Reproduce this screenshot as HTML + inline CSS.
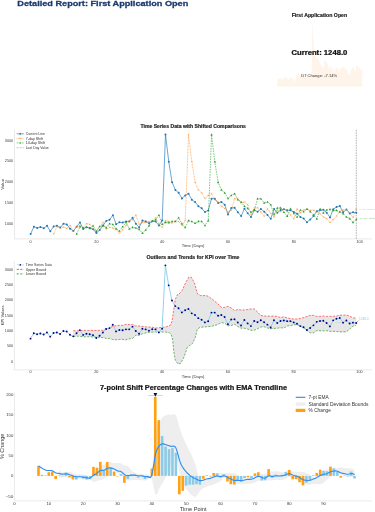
<!DOCTYPE html>
<html><head><meta charset="utf-8"><style>
html,body{margin:0;padding:0;background:#fff;width:375px;height:512px;overflow:hidden}
svg{display:block;font-family:"Liberation Sans", sans-serif;will-change:transform}
</style></head><body>
<svg width="375" height="512" viewBox="0 0 375 512">
<rect width="375" height="512" fill="#fff"/>
<text x="17.3" y="5.85" font-size="7.9" fill="#1b3b6f" text-anchor="start" font-weight="bold" stroke="#1b3b6f" stroke-width="0.28" textLength="171" lengthAdjust="spacingAndGlyphs">Detailed Report: First Application Open</text>
<path d="M277.2,82.69 L278.06,78.09 L278.92,78.91 L279.77,78.34 L280.63,79.1 L281.49,77.46 L282.35,80.99 L283.21,77.9 L284.06,77.46 L284.92,78.66 L285.78,76.2 L286.64,76.64 L287.5,79.35 L288.35,80.74 L289.21,78.09 L290.07,75.38 L290.93,79.48 L291.79,78.47 L292.64,78.91 L293.5,79.73 L294.36,82.13 L295.22,80.17 L296.08,77.4 L296.93,74.43 L297.79,73.67 L298.65,70.84 L299.51,76.51 L300.37,75.31 L301.22,75.5 L302.08,74.75 L302.94,74.75 L303.8,72.41 L304.66,76.2 L305.51,78.53 L306.37,74.24 L307.23,74.75 L308.09,75.88 L308.95,74.68 L309.8,74.75 L310.66,77.33 L311.52,74.24 L312.38,20.01 L313.24,37.1 L314.09,50.09 L314.95,54.88 L315.81,56.71 L316.67,60.24 L317.53,58.35 L318.38,57.28 L319.24,61.06 L320.1,62.51 L320.96,65.16 L321.82,66.49 L322.67,68.82 L323.53,67.81 L324.39,60.43 L325.25,60.43 L326.11,63.08 L326.96,62.51 L327.82,64.22 L328.68,70.33 L329.54,66.3 L330.4,66.17 L331.25,68.94 L332.11,71.4 L332.97,66.74 L333.83,69.64 L334.69,71.97 L335.54,67.56 L336.4,68.63 L337.26,66.93 L338.12,68.63 L338.98,70.71 L339.83,73.11 L340.69,66.93 L341.55,69.32 L342.41,67.56 L343.27,67.12 L344.12,67.75 L344.98,67.75 L345.84,68.82 L346.7,69.89 L347.56,71.97 L348.41,72.98 L349.27,75.31 L350.13,73.55 L350.99,71.34 L351.85,68.31 L352.7,67.56 L353.56,67.37 L354.42,69.26 L355.28,72.22 L356.14,67.05 L356.99,65.67 L357.85,65.04 L358.71,69.01 L359.57,67.18 L360.43,69.7 L361.28,69.01 L362.14,69.26 L362.14,86.4 L277.2,86.4 Z" fill="#fff4e9" stroke="none"/>
<text x="319.4" y="16.63" font-size="4.53" fill="#222" text-anchor="middle" font-weight="bold" stroke="#222" stroke-width="0.16" textLength="55.5" lengthAdjust="spacingAndGlyphs">First Application Open</text>
<text x="319.4" y="54.92" font-size="6.45" fill="#111" text-anchor="middle" font-weight="bold" stroke="#111" stroke-width="0.23" textLength="55.8" lengthAdjust="spacingAndGlyphs">Current: 1248.0</text>
<text x="319.2" y="76.67" font-size="3.8" fill="#333" text-anchor="middle" textLength="36" lengthAdjust="spacingAndGlyphs">D7 Change: -7.14%</text>
<line x1="14.5" y1="129.8" x2="14.5" y2="239" stroke="#dcdcdc" stroke-width="0.6"/>
<line x1="14.5" y1="238.9" x2="372" y2="238.9" stroke="#dcdcdc" stroke-width="0.6"/>
<text x="13.2" y="224.62" font-size="3.4" fill="#3a3a3a" text-anchor="end" textLength="8.4" lengthAdjust="spacingAndGlyphs">1000</text>
<text x="13.2" y="203.9" font-size="3.4" fill="#3a3a3a" text-anchor="end" textLength="8.4" lengthAdjust="spacingAndGlyphs">1500</text>
<text x="13.2" y="183.17" font-size="3.4" fill="#3a3a3a" text-anchor="end" textLength="8.4" lengthAdjust="spacingAndGlyphs">2000</text>
<text x="13.2" y="162.45" font-size="3.4" fill="#3a3a3a" text-anchor="end" textLength="8.4" lengthAdjust="spacingAndGlyphs">2500</text>
<text x="13.2" y="141.72" font-size="3.4" fill="#3a3a3a" text-anchor="end" textLength="8.4" lengthAdjust="spacingAndGlyphs">3000</text>
<text x="30.6" y="242.62" font-size="3.4" fill="#3a3a3a" text-anchor="middle" textLength="2.1" lengthAdjust="spacingAndGlyphs">0</text>
<text x="96.4" y="242.62" font-size="3.4" fill="#3a3a3a" text-anchor="middle" textLength="4.2" lengthAdjust="spacingAndGlyphs">20</text>
<text x="162.2" y="242.62" font-size="3.4" fill="#3a3a3a" text-anchor="middle" textLength="4.2" lengthAdjust="spacingAndGlyphs">40</text>
<text x="228" y="242.62" font-size="3.4" fill="#3a3a3a" text-anchor="middle" textLength="4.2" lengthAdjust="spacingAndGlyphs">60</text>
<text x="293.8" y="242.62" font-size="3.4" fill="#3a3a3a" text-anchor="middle" textLength="4.2" lengthAdjust="spacingAndGlyphs">80</text>
<text x="359.6" y="242.62" font-size="3.4" fill="#3a3a3a" text-anchor="middle" textLength="6.3" lengthAdjust="spacingAndGlyphs">100</text>
<text x="193.1" y="247.18" font-size="3.83" fill="#333" text-anchor="middle" textLength="22.6" lengthAdjust="spacingAndGlyphs">Time (Days)</text>
<g transform="translate(2.3 184.3) rotate(-90)"><text x="0" y="1.42" font-size="3.94" fill="#333" text-anchor="middle" textLength="10.8" lengthAdjust="spacingAndGlyphs">Value</text></g>
<text x="193.2" y="127.6" font-size="4.44" fill="#222" text-anchor="middle" font-weight="bold" stroke="#222" stroke-width="0.16" textLength="105.5" lengthAdjust="spacingAndGlyphs">Time Series Data with Shifted Comparisons</text>
<line x1="356.31" y1="129.8" x2="356.31" y2="239" stroke="#7a7a7a" stroke-width="0.6" stroke-dasharray="1.5,1.0"/>
<path d="M30.6,234 L33.89,226.7 L37.18,228 L40.47,227.1 L43.76,228.3 L47.05,225.7 L50.34,231.3 L53.63,226.4 L56.92,225.7 L60.21,227.6 L63.5,223.7 L66.79,224.4 L70.08,228.7 L73.37,230.9 L76.66,226.7 L79.95,222.4 L83.24,228.9 L86.53,227.3 L89.82,228 L93.11,229.3 L96.4,233.1 L99.69,230 L102.98,225.6 L106.27,220.9 L109.56,219.7 L112.85,215.2 L116.14,224.2 L119.43,222.3 L122.72,222.6 L126.01,221.4 L129.3,221.4 L132.59,217.7 L135.88,223.7 L139.17,227.4 L142.46,220.6 L145.75,221.4 L149.04,223.2 L152.33,221.3 L155.62,221.4 L158.91,225.5 L162.2,220.6 L165.49,134.6 L168.78,161.7 L172.07,182.3 L175.36,189.9 L178.65,192.8 L181.94,198.4 L185.23,195.4 L188.52,193.7 L191.81,199.7 L195.1,202 L198.39,206.2 L201.68,208.3 L204.97,212 L208.26,210.4 L211.55,198.7 L214.84,198.7 L218.13,202.9 L221.42,202 L224.71,204.7 L228,214.4 L231.29,208 L234.58,207.8 L237.87,212.2 L241.16,216.1 L244.45,208.7 L247.74,213.3 L251.03,217 L254.32,210 L257.61,211.7 L260.9,209 L264.19,211.7 L267.48,215 L270.77,218.8 L274.06,209 L277.35,212.8 L280.64,210 L283.93,209.3 L287.22,210.3 L290.51,210.3 L293.8,212 L297.09,213.7 L300.38,217 L303.67,218.6 L306.96,222.3 L310.25,219.5 L313.54,216 L316.83,211.2 L320.12,210 L323.41,209.7 L326.7,212.7 L329.99,217.4 L333.28,209.2 L336.57,207 L339.86,206 L343.15,212.3 L346.44,209.4 L349.73,213.4 L353.02,212.3 L356.31,212.7" fill="none" stroke="#1f77b4" stroke-width="0.65"/>
<circle cx="30.6" cy="234" r="1.0" fill="#1f77b4"/>
<circle cx="33.89" cy="226.7" r="1.0" fill="#1f77b4"/>
<circle cx="37.18" cy="228" r="1.0" fill="#1f77b4"/>
<circle cx="40.47" cy="227.1" r="1.0" fill="#1f77b4"/>
<circle cx="43.76" cy="228.3" r="1.0" fill="#1f77b4"/>
<circle cx="47.05" cy="225.7" r="1.0" fill="#1f77b4"/>
<circle cx="50.34" cy="231.3" r="1.0" fill="#1f77b4"/>
<circle cx="53.63" cy="226.4" r="1.0" fill="#1f77b4"/>
<circle cx="56.92" cy="225.7" r="1.0" fill="#1f77b4"/>
<circle cx="60.21" cy="227.6" r="1.0" fill="#1f77b4"/>
<circle cx="63.5" cy="223.7" r="1.0" fill="#1f77b4"/>
<circle cx="66.79" cy="224.4" r="1.0" fill="#1f77b4"/>
<circle cx="70.08" cy="228.7" r="1.0" fill="#1f77b4"/>
<circle cx="73.37" cy="230.9" r="1.0" fill="#1f77b4"/>
<circle cx="76.66" cy="226.7" r="1.0" fill="#1f77b4"/>
<circle cx="79.95" cy="222.4" r="1.0" fill="#1f77b4"/>
<circle cx="83.24" cy="228.9" r="1.0" fill="#1f77b4"/>
<circle cx="86.53" cy="227.3" r="1.0" fill="#1f77b4"/>
<circle cx="89.82" cy="228" r="1.0" fill="#1f77b4"/>
<circle cx="93.11" cy="229.3" r="1.0" fill="#1f77b4"/>
<circle cx="96.4" cy="233.1" r="1.0" fill="#1f77b4"/>
<circle cx="99.69" cy="230" r="1.0" fill="#1f77b4"/>
<circle cx="102.98" cy="225.6" r="1.0" fill="#1f77b4"/>
<circle cx="106.27" cy="220.9" r="1.0" fill="#1f77b4"/>
<circle cx="109.56" cy="219.7" r="1.0" fill="#1f77b4"/>
<circle cx="112.85" cy="215.2" r="1.0" fill="#1f77b4"/>
<circle cx="116.14" cy="224.2" r="1.0" fill="#1f77b4"/>
<circle cx="119.43" cy="222.3" r="1.0" fill="#1f77b4"/>
<circle cx="122.72" cy="222.6" r="1.0" fill="#1f77b4"/>
<circle cx="126.01" cy="221.4" r="1.0" fill="#1f77b4"/>
<circle cx="129.3" cy="221.4" r="1.0" fill="#1f77b4"/>
<circle cx="132.59" cy="217.7" r="1.0" fill="#1f77b4"/>
<circle cx="135.88" cy="223.7" r="1.0" fill="#1f77b4"/>
<circle cx="139.17" cy="227.4" r="1.0" fill="#1f77b4"/>
<circle cx="142.46" cy="220.6" r="1.0" fill="#1f77b4"/>
<circle cx="145.75" cy="221.4" r="1.0" fill="#1f77b4"/>
<circle cx="149.04" cy="223.2" r="1.0" fill="#1f77b4"/>
<circle cx="152.33" cy="221.3" r="1.0" fill="#1f77b4"/>
<circle cx="155.62" cy="221.4" r="1.0" fill="#1f77b4"/>
<circle cx="158.91" cy="225.5" r="1.0" fill="#1f77b4"/>
<circle cx="162.2" cy="220.6" r="1.0" fill="#1f77b4"/>
<circle cx="165.49" cy="134.6" r="1.0" fill="#1f77b4"/>
<circle cx="168.78" cy="161.7" r="1.0" fill="#1f77b4"/>
<circle cx="172.07" cy="182.3" r="1.0" fill="#1f77b4"/>
<circle cx="175.36" cy="189.9" r="1.0" fill="#1f77b4"/>
<circle cx="178.65" cy="192.8" r="1.0" fill="#1f77b4"/>
<circle cx="181.94" cy="198.4" r="1.0" fill="#1f77b4"/>
<circle cx="185.23" cy="195.4" r="1.0" fill="#1f77b4"/>
<circle cx="188.52" cy="193.7" r="1.0" fill="#1f77b4"/>
<circle cx="191.81" cy="199.7" r="1.0" fill="#1f77b4"/>
<circle cx="195.1" cy="202" r="1.0" fill="#1f77b4"/>
<circle cx="198.39" cy="206.2" r="1.0" fill="#1f77b4"/>
<circle cx="201.68" cy="208.3" r="1.0" fill="#1f77b4"/>
<circle cx="204.97" cy="212" r="1.0" fill="#1f77b4"/>
<circle cx="208.26" cy="210.4" r="1.0" fill="#1f77b4"/>
<circle cx="211.55" cy="198.7" r="1.0" fill="#1f77b4"/>
<circle cx="214.84" cy="198.7" r="1.0" fill="#1f77b4"/>
<circle cx="218.13" cy="202.9" r="1.0" fill="#1f77b4"/>
<circle cx="221.42" cy="202" r="1.0" fill="#1f77b4"/>
<circle cx="224.71" cy="204.7" r="1.0" fill="#1f77b4"/>
<circle cx="228" cy="214.4" r="1.0" fill="#1f77b4"/>
<circle cx="231.29" cy="208" r="1.0" fill="#1f77b4"/>
<circle cx="234.58" cy="207.8" r="1.0" fill="#1f77b4"/>
<circle cx="237.87" cy="212.2" r="1.0" fill="#1f77b4"/>
<circle cx="241.16" cy="216.1" r="1.0" fill="#1f77b4"/>
<circle cx="244.45" cy="208.7" r="1.0" fill="#1f77b4"/>
<circle cx="247.74" cy="213.3" r="1.0" fill="#1f77b4"/>
<circle cx="251.03" cy="217" r="1.0" fill="#1f77b4"/>
<circle cx="254.32" cy="210" r="1.0" fill="#1f77b4"/>
<circle cx="257.61" cy="211.7" r="1.0" fill="#1f77b4"/>
<circle cx="260.9" cy="209" r="1.0" fill="#1f77b4"/>
<circle cx="264.19" cy="211.7" r="1.0" fill="#1f77b4"/>
<circle cx="267.48" cy="215" r="1.0" fill="#1f77b4"/>
<circle cx="270.77" cy="218.8" r="1.0" fill="#1f77b4"/>
<circle cx="274.06" cy="209" r="1.0" fill="#1f77b4"/>
<circle cx="277.35" cy="212.8" r="1.0" fill="#1f77b4"/>
<circle cx="280.64" cy="210" r="1.0" fill="#1f77b4"/>
<circle cx="283.93" cy="209.3" r="1.0" fill="#1f77b4"/>
<circle cx="287.22" cy="210.3" r="1.0" fill="#1f77b4"/>
<circle cx="290.51" cy="210.3" r="1.0" fill="#1f77b4"/>
<circle cx="293.8" cy="212" r="1.0" fill="#1f77b4"/>
<circle cx="297.09" cy="213.7" r="1.0" fill="#1f77b4"/>
<circle cx="300.38" cy="217" r="1.0" fill="#1f77b4"/>
<circle cx="303.67" cy="218.6" r="1.0" fill="#1f77b4"/>
<circle cx="306.96" cy="222.3" r="1.0" fill="#1f77b4"/>
<circle cx="310.25" cy="219.5" r="1.0" fill="#1f77b4"/>
<circle cx="313.54" cy="216" r="1.0" fill="#1f77b4"/>
<circle cx="316.83" cy="211.2" r="1.0" fill="#1f77b4"/>
<circle cx="320.12" cy="210" r="1.0" fill="#1f77b4"/>
<circle cx="323.41" cy="209.7" r="1.0" fill="#1f77b4"/>
<circle cx="326.7" cy="212.7" r="1.0" fill="#1f77b4"/>
<circle cx="329.99" cy="217.4" r="1.0" fill="#1f77b4"/>
<circle cx="333.28" cy="209.2" r="1.0" fill="#1f77b4"/>
<circle cx="336.57" cy="207" r="1.0" fill="#1f77b4"/>
<circle cx="339.86" cy="206" r="1.0" fill="#1f77b4"/>
<circle cx="343.15" cy="212.3" r="1.0" fill="#1f77b4"/>
<circle cx="346.44" cy="209.4" r="1.0" fill="#1f77b4"/>
<circle cx="349.73" cy="213.4" r="1.0" fill="#1f77b4"/>
<circle cx="353.02" cy="212.3" r="1.0" fill="#1f77b4"/>
<circle cx="356.31" cy="212.7" r="1.0" fill="#1f77b4"/>
<path d="M53.63,234 L56.92,226.7 L60.21,228 L63.5,227.1 L66.79,228.3 L70.08,225.7 L73.37,231.3 L76.66,226.4 L79.95,225.7 L83.24,227.6 L86.53,223.7 L89.82,224.4 L93.11,228.7 L96.4,230.9 L99.69,226.7 L102.98,222.4 L106.27,228.9 L109.56,227.3 L112.85,228 L116.14,229.3 L119.43,233.1 L122.72,230 L126.01,225.6 L129.3,220.9 L132.59,219.7 L135.88,215.2 L139.17,224.2 L142.46,222.3 L145.75,222.6 L149.04,221.4 L152.33,221.4 L155.62,217.7 L158.91,223.7 L162.2,227.4 L165.49,220.6 L168.78,221.4 L172.07,223.2 L175.36,221.3 L178.65,221.4 L181.94,225.5 L185.23,220.6 L188.52,134.6 L191.81,161.7 L195.1,182.3 L198.39,189.9 L201.68,192.8 L204.97,198.4 L208.26,195.4 L211.55,193.7 L214.84,199.7 L218.13,202 L221.42,206.2 L224.71,208.3 L228,212 L231.29,210.4 L234.58,198.7 L237.87,198.7 L241.16,202.9 L244.45,202 L247.74,204.7 L251.03,214.4 L254.32,208 L257.61,207.8 L260.9,212.2 L264.19,216.1 L267.48,208.7 L270.77,213.3 L274.06,217 L277.35,210 L280.64,211.7 L283.93,209 L287.22,211.7 L290.51,215 L293.8,218.8 L297.09,209 L300.38,212.8 L303.67,210 L306.96,209.3 L310.25,210.3 L313.54,210.3 L316.83,212 L320.12,213.7 L323.41,217 L326.7,218.6 L329.99,222.3 L333.28,219.5 L336.57,216 L339.86,211.2 L343.15,210 L346.44,209.7 L349.73,212.7 L353.02,217.4 L356.31,209.2" fill="none" stroke="#ff7f0e" stroke-opacity="0.85" stroke-width="0.7" stroke-dasharray="0.8,0.7"/>
<path d="M52.93,233.3 L54.33,234.7 M54.33,233.3 L52.93,234.7" stroke="#ff7f0e" stroke-opacity="0.8" stroke-width="0.5"/>
<path d="M56.22,226 L57.62,227.4 M57.62,226 L56.22,227.4" stroke="#ff7f0e" stroke-opacity="0.8" stroke-width="0.5"/>
<path d="M59.51,227.3 L60.91,228.7 M60.91,227.3 L59.51,228.7" stroke="#ff7f0e" stroke-opacity="0.8" stroke-width="0.5"/>
<path d="M62.8,226.4 L64.2,227.8 M64.2,226.4 L62.8,227.8" stroke="#ff7f0e" stroke-opacity="0.8" stroke-width="0.5"/>
<path d="M66.09,227.6 L67.49,229 M67.49,227.6 L66.09,229" stroke="#ff7f0e" stroke-opacity="0.8" stroke-width="0.5"/>
<path d="M69.38,225 L70.78,226.4 M70.78,225 L69.38,226.4" stroke="#ff7f0e" stroke-opacity="0.8" stroke-width="0.5"/>
<path d="M72.67,230.6 L74.07,232 M74.07,230.6 L72.67,232" stroke="#ff7f0e" stroke-opacity="0.8" stroke-width="0.5"/>
<path d="M75.96,225.7 L77.36,227.1 M77.36,225.7 L75.96,227.1" stroke="#ff7f0e" stroke-opacity="0.8" stroke-width="0.5"/>
<path d="M79.25,225 L80.65,226.4 M80.65,225 L79.25,226.4" stroke="#ff7f0e" stroke-opacity="0.8" stroke-width="0.5"/>
<path d="M82.54,226.9 L83.94,228.3 M83.94,226.9 L82.54,228.3" stroke="#ff7f0e" stroke-opacity="0.8" stroke-width="0.5"/>
<path d="M85.83,223 L87.23,224.4 M87.23,223 L85.83,224.4" stroke="#ff7f0e" stroke-opacity="0.8" stroke-width="0.5"/>
<path d="M89.12,223.7 L90.52,225.1 M90.52,223.7 L89.12,225.1" stroke="#ff7f0e" stroke-opacity="0.8" stroke-width="0.5"/>
<path d="M92.41,228 L93.81,229.4 M93.81,228 L92.41,229.4" stroke="#ff7f0e" stroke-opacity="0.8" stroke-width="0.5"/>
<path d="M95.7,230.2 L97.1,231.6 M97.1,230.2 L95.7,231.6" stroke="#ff7f0e" stroke-opacity="0.8" stroke-width="0.5"/>
<path d="M98.99,226 L100.39,227.4 M100.39,226 L98.99,227.4" stroke="#ff7f0e" stroke-opacity="0.8" stroke-width="0.5"/>
<path d="M102.28,221.7 L103.68,223.1 M103.68,221.7 L102.28,223.1" stroke="#ff7f0e" stroke-opacity="0.8" stroke-width="0.5"/>
<path d="M105.57,228.2 L106.97,229.6 M106.97,228.2 L105.57,229.6" stroke="#ff7f0e" stroke-opacity="0.8" stroke-width="0.5"/>
<path d="M108.86,226.6 L110.26,228 M110.26,226.6 L108.86,228" stroke="#ff7f0e" stroke-opacity="0.8" stroke-width="0.5"/>
<path d="M112.15,227.3 L113.55,228.7 M113.55,227.3 L112.15,228.7" stroke="#ff7f0e" stroke-opacity="0.8" stroke-width="0.5"/>
<path d="M115.44,228.6 L116.84,230 M116.84,228.6 L115.44,230" stroke="#ff7f0e" stroke-opacity="0.8" stroke-width="0.5"/>
<path d="M118.73,232.4 L120.13,233.8 M120.13,232.4 L118.73,233.8" stroke="#ff7f0e" stroke-opacity="0.8" stroke-width="0.5"/>
<path d="M122.02,229.3 L123.42,230.7 M123.42,229.3 L122.02,230.7" stroke="#ff7f0e" stroke-opacity="0.8" stroke-width="0.5"/>
<path d="M125.31,224.9 L126.71,226.3 M126.71,224.9 L125.31,226.3" stroke="#ff7f0e" stroke-opacity="0.8" stroke-width="0.5"/>
<path d="M128.6,220.2 L130,221.6 M130,220.2 L128.6,221.6" stroke="#ff7f0e" stroke-opacity="0.8" stroke-width="0.5"/>
<path d="M131.89,219 L133.29,220.4 M133.29,219 L131.89,220.4" stroke="#ff7f0e" stroke-opacity="0.8" stroke-width="0.5"/>
<path d="M135.18,214.5 L136.58,215.9 M136.58,214.5 L135.18,215.9" stroke="#ff7f0e" stroke-opacity="0.8" stroke-width="0.5"/>
<path d="M138.47,223.5 L139.87,224.9 M139.87,223.5 L138.47,224.9" stroke="#ff7f0e" stroke-opacity="0.8" stroke-width="0.5"/>
<path d="M141.76,221.6 L143.16,223 M143.16,221.6 L141.76,223" stroke="#ff7f0e" stroke-opacity="0.8" stroke-width="0.5"/>
<path d="M145.05,221.9 L146.45,223.3 M146.45,221.9 L145.05,223.3" stroke="#ff7f0e" stroke-opacity="0.8" stroke-width="0.5"/>
<path d="M148.34,220.7 L149.74,222.1 M149.74,220.7 L148.34,222.1" stroke="#ff7f0e" stroke-opacity="0.8" stroke-width="0.5"/>
<path d="M151.63,220.7 L153.03,222.1 M153.03,220.7 L151.63,222.1" stroke="#ff7f0e" stroke-opacity="0.8" stroke-width="0.5"/>
<path d="M154.92,217 L156.32,218.4 M156.32,217 L154.92,218.4" stroke="#ff7f0e" stroke-opacity="0.8" stroke-width="0.5"/>
<path d="M158.21,223 L159.61,224.4 M159.61,223 L158.21,224.4" stroke="#ff7f0e" stroke-opacity="0.8" stroke-width="0.5"/>
<path d="M161.5,226.7 L162.9,228.1 M162.9,226.7 L161.5,228.1" stroke="#ff7f0e" stroke-opacity="0.8" stroke-width="0.5"/>
<path d="M164.79,219.9 L166.19,221.3 M166.19,219.9 L164.79,221.3" stroke="#ff7f0e" stroke-opacity="0.8" stroke-width="0.5"/>
<path d="M168.08,220.7 L169.48,222.1 M169.48,220.7 L168.08,222.1" stroke="#ff7f0e" stroke-opacity="0.8" stroke-width="0.5"/>
<path d="M171.37,222.5 L172.77,223.9 M172.77,222.5 L171.37,223.9" stroke="#ff7f0e" stroke-opacity="0.8" stroke-width="0.5"/>
<path d="M174.66,220.6 L176.06,222 M176.06,220.6 L174.66,222" stroke="#ff7f0e" stroke-opacity="0.8" stroke-width="0.5"/>
<path d="M177.95,220.7 L179.35,222.1 M179.35,220.7 L177.95,222.1" stroke="#ff7f0e" stroke-opacity="0.8" stroke-width="0.5"/>
<path d="M181.24,224.8 L182.64,226.2 M182.64,224.8 L181.24,226.2" stroke="#ff7f0e" stroke-opacity="0.8" stroke-width="0.5"/>
<path d="M184.53,219.9 L185.93,221.3 M185.93,219.9 L184.53,221.3" stroke="#ff7f0e" stroke-opacity="0.8" stroke-width="0.5"/>
<path d="M187.82,133.9 L189.22,135.3 M189.22,133.9 L187.82,135.3" stroke="#ff7f0e" stroke-opacity="0.8" stroke-width="0.5"/>
<path d="M191.11,161 L192.51,162.4 M192.51,161 L191.11,162.4" stroke="#ff7f0e" stroke-opacity="0.8" stroke-width="0.5"/>
<path d="M194.4,181.6 L195.8,183 M195.8,181.6 L194.4,183" stroke="#ff7f0e" stroke-opacity="0.8" stroke-width="0.5"/>
<path d="M197.69,189.2 L199.09,190.6 M199.09,189.2 L197.69,190.6" stroke="#ff7f0e" stroke-opacity="0.8" stroke-width="0.5"/>
<path d="M200.98,192.1 L202.38,193.5 M202.38,192.1 L200.98,193.5" stroke="#ff7f0e" stroke-opacity="0.8" stroke-width="0.5"/>
<path d="M204.27,197.7 L205.67,199.1 M205.67,197.7 L204.27,199.1" stroke="#ff7f0e" stroke-opacity="0.8" stroke-width="0.5"/>
<path d="M207.56,194.7 L208.96,196.1 M208.96,194.7 L207.56,196.1" stroke="#ff7f0e" stroke-opacity="0.8" stroke-width="0.5"/>
<path d="M210.85,193 L212.25,194.4 M212.25,193 L210.85,194.4" stroke="#ff7f0e" stroke-opacity="0.8" stroke-width="0.5"/>
<path d="M214.14,199 L215.54,200.4 M215.54,199 L214.14,200.4" stroke="#ff7f0e" stroke-opacity="0.8" stroke-width="0.5"/>
<path d="M217.43,201.3 L218.83,202.7 M218.83,201.3 L217.43,202.7" stroke="#ff7f0e" stroke-opacity="0.8" stroke-width="0.5"/>
<path d="M220.72,205.5 L222.12,206.9 M222.12,205.5 L220.72,206.9" stroke="#ff7f0e" stroke-opacity="0.8" stroke-width="0.5"/>
<path d="M224.01,207.6 L225.41,209 M225.41,207.6 L224.01,209" stroke="#ff7f0e" stroke-opacity="0.8" stroke-width="0.5"/>
<path d="M227.3,211.3 L228.7,212.7 M228.7,211.3 L227.3,212.7" stroke="#ff7f0e" stroke-opacity="0.8" stroke-width="0.5"/>
<path d="M230.59,209.7 L231.99,211.1 M231.99,209.7 L230.59,211.1" stroke="#ff7f0e" stroke-opacity="0.8" stroke-width="0.5"/>
<path d="M233.88,198 L235.28,199.4 M235.28,198 L233.88,199.4" stroke="#ff7f0e" stroke-opacity="0.8" stroke-width="0.5"/>
<path d="M237.17,198 L238.57,199.4 M238.57,198 L237.17,199.4" stroke="#ff7f0e" stroke-opacity="0.8" stroke-width="0.5"/>
<path d="M240.46,202.2 L241.86,203.6 M241.86,202.2 L240.46,203.6" stroke="#ff7f0e" stroke-opacity="0.8" stroke-width="0.5"/>
<path d="M243.75,201.3 L245.15,202.7 M245.15,201.3 L243.75,202.7" stroke="#ff7f0e" stroke-opacity="0.8" stroke-width="0.5"/>
<path d="M247.04,204 L248.44,205.4 M248.44,204 L247.04,205.4" stroke="#ff7f0e" stroke-opacity="0.8" stroke-width="0.5"/>
<path d="M250.33,213.7 L251.73,215.1 M251.73,213.7 L250.33,215.1" stroke="#ff7f0e" stroke-opacity="0.8" stroke-width="0.5"/>
<path d="M253.62,207.3 L255.02,208.7 M255.02,207.3 L253.62,208.7" stroke="#ff7f0e" stroke-opacity="0.8" stroke-width="0.5"/>
<path d="M256.91,207.1 L258.31,208.5 M258.31,207.1 L256.91,208.5" stroke="#ff7f0e" stroke-opacity="0.8" stroke-width="0.5"/>
<path d="M260.2,211.5 L261.6,212.9 M261.6,211.5 L260.2,212.9" stroke="#ff7f0e" stroke-opacity="0.8" stroke-width="0.5"/>
<path d="M263.49,215.4 L264.89,216.8 M264.89,215.4 L263.49,216.8" stroke="#ff7f0e" stroke-opacity="0.8" stroke-width="0.5"/>
<path d="M266.78,208 L268.18,209.4 M268.18,208 L266.78,209.4" stroke="#ff7f0e" stroke-opacity="0.8" stroke-width="0.5"/>
<path d="M270.07,212.6 L271.47,214 M271.47,212.6 L270.07,214" stroke="#ff7f0e" stroke-opacity="0.8" stroke-width="0.5"/>
<path d="M273.36,216.3 L274.76,217.7 M274.76,216.3 L273.36,217.7" stroke="#ff7f0e" stroke-opacity="0.8" stroke-width="0.5"/>
<path d="M276.65,209.3 L278.05,210.7 M278.05,209.3 L276.65,210.7" stroke="#ff7f0e" stroke-opacity="0.8" stroke-width="0.5"/>
<path d="M279.94,211 L281.34,212.4 M281.34,211 L279.94,212.4" stroke="#ff7f0e" stroke-opacity="0.8" stroke-width="0.5"/>
<path d="M283.23,208.3 L284.63,209.7 M284.63,208.3 L283.23,209.7" stroke="#ff7f0e" stroke-opacity="0.8" stroke-width="0.5"/>
<path d="M286.52,211 L287.92,212.4 M287.92,211 L286.52,212.4" stroke="#ff7f0e" stroke-opacity="0.8" stroke-width="0.5"/>
<path d="M289.81,214.3 L291.21,215.7 M291.21,214.3 L289.81,215.7" stroke="#ff7f0e" stroke-opacity="0.8" stroke-width="0.5"/>
<path d="M293.1,218.1 L294.5,219.5 M294.5,218.1 L293.1,219.5" stroke="#ff7f0e" stroke-opacity="0.8" stroke-width="0.5"/>
<path d="M296.39,208.3 L297.79,209.7 M297.79,208.3 L296.39,209.7" stroke="#ff7f0e" stroke-opacity="0.8" stroke-width="0.5"/>
<path d="M299.68,212.1 L301.08,213.5 M301.08,212.1 L299.68,213.5" stroke="#ff7f0e" stroke-opacity="0.8" stroke-width="0.5"/>
<path d="M302.97,209.3 L304.37,210.7 M304.37,209.3 L302.97,210.7" stroke="#ff7f0e" stroke-opacity="0.8" stroke-width="0.5"/>
<path d="M306.26,208.6 L307.66,210 M307.66,208.6 L306.26,210" stroke="#ff7f0e" stroke-opacity="0.8" stroke-width="0.5"/>
<path d="M309.55,209.6 L310.95,211 M310.95,209.6 L309.55,211" stroke="#ff7f0e" stroke-opacity="0.8" stroke-width="0.5"/>
<path d="M312.84,209.6 L314.24,211 M314.24,209.6 L312.84,211" stroke="#ff7f0e" stroke-opacity="0.8" stroke-width="0.5"/>
<path d="M316.13,211.3 L317.53,212.7 M317.53,211.3 L316.13,212.7" stroke="#ff7f0e" stroke-opacity="0.8" stroke-width="0.5"/>
<path d="M319.42,213 L320.82,214.4 M320.82,213 L319.42,214.4" stroke="#ff7f0e" stroke-opacity="0.8" stroke-width="0.5"/>
<path d="M322.71,216.3 L324.11,217.7 M324.11,216.3 L322.71,217.7" stroke="#ff7f0e" stroke-opacity="0.8" stroke-width="0.5"/>
<path d="M326,217.9 L327.4,219.3 M327.4,217.9 L326,219.3" stroke="#ff7f0e" stroke-opacity="0.8" stroke-width="0.5"/>
<path d="M329.29,221.6 L330.69,223 M330.69,221.6 L329.29,223" stroke="#ff7f0e" stroke-opacity="0.8" stroke-width="0.5"/>
<path d="M332.58,218.8 L333.98,220.2 M333.98,218.8 L332.58,220.2" stroke="#ff7f0e" stroke-opacity="0.8" stroke-width="0.5"/>
<path d="M335.87,215.3 L337.27,216.7 M337.27,215.3 L335.87,216.7" stroke="#ff7f0e" stroke-opacity="0.8" stroke-width="0.5"/>
<path d="M339.16,210.5 L340.56,211.9 M340.56,210.5 L339.16,211.9" stroke="#ff7f0e" stroke-opacity="0.8" stroke-width="0.5"/>
<path d="M342.45,209.3 L343.85,210.7 M343.85,209.3 L342.45,210.7" stroke="#ff7f0e" stroke-opacity="0.8" stroke-width="0.5"/>
<path d="M345.74,209 L347.14,210.4 M347.14,209 L345.74,210.4" stroke="#ff7f0e" stroke-opacity="0.8" stroke-width="0.5"/>
<path d="M349.03,212 L350.43,213.4 M350.43,212 L349.03,213.4" stroke="#ff7f0e" stroke-opacity="0.8" stroke-width="0.5"/>
<path d="M352.32,216.7 L353.72,218.1 M353.72,216.7 L352.32,218.1" stroke="#ff7f0e" stroke-opacity="0.8" stroke-width="0.5"/>
<path d="M355.61,208.5 L357.01,209.9 M357.01,208.5 L355.61,209.9" stroke="#ff7f0e" stroke-opacity="0.8" stroke-width="0.5"/>
<path d="M76.66,234 L79.95,226.7 L83.24,228 L86.53,227.1 L89.82,228.3 L93.11,225.7 L96.4,231.3 L99.69,226.4 L102.98,225.7 L106.27,227.6 L109.56,223.7 L112.85,224.4 L116.14,228.7 L119.43,230.9 L122.72,226.7 L126.01,222.4 L129.3,228.9 L132.59,227.3 L135.88,228 L139.17,229.3 L142.46,233.1 L145.75,230 L149.04,225.6 L152.33,220.9 L155.62,219.7 L158.91,215.2 L162.2,224.2 L165.49,222.3 L168.78,222.6 L172.07,221.4 L175.36,221.4 L178.65,217.7 L181.94,223.7 L185.23,227.4 L188.52,220.6 L191.81,221.4 L195.1,223.2 L198.39,221.3 L201.68,221.4 L204.97,225.5 L208.26,220.6 L211.55,134.6 L214.84,161.7 L218.13,182.3 L221.42,189.9 L224.71,192.8 L228,198.4 L231.29,195.4 L234.58,193.7 L237.87,199.7 L241.16,202 L244.45,206.2 L247.74,208.3 L251.03,212 L254.32,210.4 L257.61,198.7 L260.9,198.7 L264.19,202.9 L267.48,202 L270.77,204.7 L274.06,214.4 L277.35,208 L280.64,207.8 L283.93,212.2 L287.22,216.1 L290.51,208.7 L293.8,213.3 L297.09,217 L300.38,210 L303.67,211.7 L306.96,209 L310.25,211.7 L313.54,215 L316.83,218.8 L320.12,209 L323.41,212.8 L326.7,210 L329.99,209.3 L333.28,210.3 L336.57,210.3 L339.86,212 L343.15,213.7 L346.44,217 L349.73,218.6 L353.02,222.3 L356.31,219.5" fill="none" stroke="#2ca02c" stroke-opacity="0.85" stroke-width="0.7" stroke-dasharray="1.6,1"/>
<path d="M76.66,232.75 L77.81,234.85 L75.51,234.85 Z" fill="#2ca02c"/>
<path d="M79.95,225.45 L81.1,227.55 L78.8,227.55 Z" fill="#2ca02c"/>
<path d="M83.24,226.75 L84.39,228.85 L82.09,228.85 Z" fill="#2ca02c"/>
<path d="M86.53,225.85 L87.68,227.95 L85.38,227.95 Z" fill="#2ca02c"/>
<path d="M89.82,227.05 L90.97,229.15 L88.67,229.15 Z" fill="#2ca02c"/>
<path d="M93.11,224.45 L94.26,226.55 L91.96,226.55 Z" fill="#2ca02c"/>
<path d="M96.4,230.05 L97.55,232.15 L95.25,232.15 Z" fill="#2ca02c"/>
<path d="M99.69,225.15 L100.84,227.25 L98.54,227.25 Z" fill="#2ca02c"/>
<path d="M102.98,224.45 L104.13,226.55 L101.83,226.55 Z" fill="#2ca02c"/>
<path d="M106.27,226.35 L107.42,228.45 L105.12,228.45 Z" fill="#2ca02c"/>
<path d="M109.56,222.45 L110.71,224.55 L108.41,224.55 Z" fill="#2ca02c"/>
<path d="M112.85,223.15 L114,225.25 L111.7,225.25 Z" fill="#2ca02c"/>
<path d="M116.14,227.45 L117.29,229.55 L114.99,229.55 Z" fill="#2ca02c"/>
<path d="M119.43,229.65 L120.58,231.75 L118.28,231.75 Z" fill="#2ca02c"/>
<path d="M122.72,225.45 L123.87,227.55 L121.57,227.55 Z" fill="#2ca02c"/>
<path d="M126.01,221.15 L127.16,223.25 L124.86,223.25 Z" fill="#2ca02c"/>
<path d="M129.3,227.65 L130.45,229.75 L128.15,229.75 Z" fill="#2ca02c"/>
<path d="M132.59,226.05 L133.74,228.15 L131.44,228.15 Z" fill="#2ca02c"/>
<path d="M135.88,226.75 L137.03,228.85 L134.73,228.85 Z" fill="#2ca02c"/>
<path d="M139.17,228.05 L140.32,230.15 L138.02,230.15 Z" fill="#2ca02c"/>
<path d="M142.46,231.85 L143.61,233.95 L141.31,233.95 Z" fill="#2ca02c"/>
<path d="M145.75,228.75 L146.9,230.85 L144.6,230.85 Z" fill="#2ca02c"/>
<path d="M149.04,224.35 L150.19,226.45 L147.89,226.45 Z" fill="#2ca02c"/>
<path d="M152.33,219.65 L153.48,221.75 L151.18,221.75 Z" fill="#2ca02c"/>
<path d="M155.62,218.45 L156.77,220.55 L154.47,220.55 Z" fill="#2ca02c"/>
<path d="M158.91,213.95 L160.06,216.05 L157.76,216.05 Z" fill="#2ca02c"/>
<path d="M162.2,222.95 L163.35,225.05 L161.05,225.05 Z" fill="#2ca02c"/>
<path d="M165.49,221.05 L166.64,223.15 L164.34,223.15 Z" fill="#2ca02c"/>
<path d="M168.78,221.35 L169.93,223.45 L167.63,223.45 Z" fill="#2ca02c"/>
<path d="M172.07,220.15 L173.22,222.25 L170.92,222.25 Z" fill="#2ca02c"/>
<path d="M175.36,220.15 L176.51,222.25 L174.21,222.25 Z" fill="#2ca02c"/>
<path d="M178.65,216.45 L179.8,218.55 L177.5,218.55 Z" fill="#2ca02c"/>
<path d="M181.94,222.45 L183.09,224.55 L180.79,224.55 Z" fill="#2ca02c"/>
<path d="M185.23,226.15 L186.38,228.25 L184.08,228.25 Z" fill="#2ca02c"/>
<path d="M188.52,219.35 L189.67,221.45 L187.37,221.45 Z" fill="#2ca02c"/>
<path d="M191.81,220.15 L192.96,222.25 L190.66,222.25 Z" fill="#2ca02c"/>
<path d="M195.1,221.95 L196.25,224.05 L193.95,224.05 Z" fill="#2ca02c"/>
<path d="M198.39,220.05 L199.54,222.15 L197.24,222.15 Z" fill="#2ca02c"/>
<path d="M201.68,220.15 L202.83,222.25 L200.53,222.25 Z" fill="#2ca02c"/>
<path d="M204.97,224.25 L206.12,226.35 L203.82,226.35 Z" fill="#2ca02c"/>
<path d="M208.26,219.35 L209.41,221.45 L207.11,221.45 Z" fill="#2ca02c"/>
<path d="M211.55,133.35 L212.7,135.45 L210.4,135.45 Z" fill="#2ca02c"/>
<path d="M214.84,160.45 L215.99,162.55 L213.69,162.55 Z" fill="#2ca02c"/>
<path d="M218.13,181.05 L219.28,183.15 L216.98,183.15 Z" fill="#2ca02c"/>
<path d="M221.42,188.65 L222.57,190.75 L220.27,190.75 Z" fill="#2ca02c"/>
<path d="M224.71,191.55 L225.86,193.65 L223.56,193.65 Z" fill="#2ca02c"/>
<path d="M228,197.15 L229.15,199.25 L226.85,199.25 Z" fill="#2ca02c"/>
<path d="M231.29,194.15 L232.44,196.25 L230.14,196.25 Z" fill="#2ca02c"/>
<path d="M234.58,192.45 L235.73,194.55 L233.43,194.55 Z" fill="#2ca02c"/>
<path d="M237.87,198.45 L239.02,200.55 L236.72,200.55 Z" fill="#2ca02c"/>
<path d="M241.16,200.75 L242.31,202.85 L240.01,202.85 Z" fill="#2ca02c"/>
<path d="M244.45,204.95 L245.6,207.05 L243.3,207.05 Z" fill="#2ca02c"/>
<path d="M247.74,207.05 L248.89,209.15 L246.59,209.15 Z" fill="#2ca02c"/>
<path d="M251.03,210.75 L252.18,212.85 L249.88,212.85 Z" fill="#2ca02c"/>
<path d="M254.32,209.15 L255.47,211.25 L253.17,211.25 Z" fill="#2ca02c"/>
<path d="M257.61,197.45 L258.76,199.55 L256.46,199.55 Z" fill="#2ca02c"/>
<path d="M260.9,197.45 L262.05,199.55 L259.75,199.55 Z" fill="#2ca02c"/>
<path d="M264.19,201.65 L265.34,203.75 L263.04,203.75 Z" fill="#2ca02c"/>
<path d="M267.48,200.75 L268.63,202.85 L266.33,202.85 Z" fill="#2ca02c"/>
<path d="M270.77,203.45 L271.92,205.55 L269.62,205.55 Z" fill="#2ca02c"/>
<path d="M274.06,213.15 L275.21,215.25 L272.91,215.25 Z" fill="#2ca02c"/>
<path d="M277.35,206.75 L278.5,208.85 L276.2,208.85 Z" fill="#2ca02c"/>
<path d="M280.64,206.55 L281.79,208.65 L279.49,208.65 Z" fill="#2ca02c"/>
<path d="M283.93,210.95 L285.08,213.05 L282.78,213.05 Z" fill="#2ca02c"/>
<path d="M287.22,214.85 L288.37,216.95 L286.07,216.95 Z" fill="#2ca02c"/>
<path d="M290.51,207.45 L291.66,209.55 L289.36,209.55 Z" fill="#2ca02c"/>
<path d="M293.8,212.05 L294.95,214.15 L292.65,214.15 Z" fill="#2ca02c"/>
<path d="M297.09,215.75 L298.24,217.85 L295.94,217.85 Z" fill="#2ca02c"/>
<path d="M300.38,208.75 L301.53,210.85 L299.23,210.85 Z" fill="#2ca02c"/>
<path d="M303.67,210.45 L304.82,212.55 L302.52,212.55 Z" fill="#2ca02c"/>
<path d="M306.96,207.75 L308.11,209.85 L305.81,209.85 Z" fill="#2ca02c"/>
<path d="M310.25,210.45 L311.4,212.55 L309.1,212.55 Z" fill="#2ca02c"/>
<path d="M313.54,213.75 L314.69,215.85 L312.39,215.85 Z" fill="#2ca02c"/>
<path d="M316.83,217.55 L317.98,219.65 L315.68,219.65 Z" fill="#2ca02c"/>
<path d="M320.12,207.75 L321.27,209.85 L318.97,209.85 Z" fill="#2ca02c"/>
<path d="M323.41,211.55 L324.56,213.65 L322.26,213.65 Z" fill="#2ca02c"/>
<path d="M326.7,208.75 L327.85,210.85 L325.55,210.85 Z" fill="#2ca02c"/>
<path d="M329.99,208.05 L331.14,210.15 L328.84,210.15 Z" fill="#2ca02c"/>
<path d="M333.28,209.05 L334.43,211.15 L332.13,211.15 Z" fill="#2ca02c"/>
<path d="M336.57,209.05 L337.72,211.15 L335.42,211.15 Z" fill="#2ca02c"/>
<path d="M339.86,210.75 L341.01,212.85 L338.71,212.85 Z" fill="#2ca02c"/>
<path d="M343.15,212.45 L344.3,214.55 L342,214.55 Z" fill="#2ca02c"/>
<path d="M346.44,215.75 L347.59,217.85 L345.29,217.85 Z" fill="#2ca02c"/>
<path d="M349.73,217.35 L350.88,219.45 L348.58,219.45 Z" fill="#2ca02c"/>
<path d="M353.02,221.05 L354.17,223.15 L351.87,223.15 Z" fill="#2ca02c"/>
<path d="M356.31,218.25 L357.46,220.35 L355.16,220.35 Z" fill="#2ca02c"/>
<text x="359.3" y="210.29" font-size="2.47" fill="#ffb27a" text-anchor="start" textLength="23.04" lengthAdjust="spacingAndGlyphs">7-day Shift: 1344.0</text>
<text x="359.6" y="219.39" font-size="2.47" fill="#86c986" text-anchor="start" textLength="24.56" lengthAdjust="spacingAndGlyphs">14-day Shift: 1094.0</text>
<line x1="16.7" y1="133.8" x2="23.8" y2="133.8" stroke="#1f77b4" stroke-width="0.65"/><circle cx="20.25" cy="133.8" r="0.85" fill="#1f77b4"/>
<line x1="16.7" y1="138.4" x2="23.8" y2="138.4" stroke="#ff7f0e" stroke-opacity="0.85" stroke-width="0.7" stroke-dasharray="0.8,0.7"/><path d="M19.55,137.70000000000002 L20.95,139.1 M20.95,137.70000000000002 L19.55,139.1" stroke="#ff7f0e" stroke-width="0.5"/>
<line x1="16.7" y1="142.9" x2="23.8" y2="142.9" stroke="#2ca02c" stroke-opacity="0.85" stroke-width="0.7" stroke-dasharray="1.6,1"/><path d="M20.25,141.9 L21.2,143.6 L19.3,143.6 Z" fill="#2ca02c"/>
<line x1="16.7" y1="147.7" x2="23.8" y2="147.7" stroke="#888" stroke-width="0.5" stroke-dasharray="1.8,1.2"/>
<text x="25.7" y="134.95" font-size="3.21" fill="#333" text-anchor="start" textLength="19.3" lengthAdjust="spacingAndGlyphs">Current Line</text>
<text x="25.7" y="139.57" font-size="3.25" fill="#333" text-anchor="start" textLength="17.2" lengthAdjust="spacingAndGlyphs">7-day Shift</text>
<text x="25.7" y="144.08" font-size="3.27" fill="#333" text-anchor="start" textLength="19.3" lengthAdjust="spacingAndGlyphs">14-day Shift</text>
<text x="25.7" y="148.84" font-size="3.17" fill="#333" text-anchor="start" textLength="23.1" lengthAdjust="spacingAndGlyphs">Last Day Value</text>
<line x1="14.4" y1="261.1" x2="14.4" y2="369.9" stroke="#dcdcdc" stroke-width="0.6"/>
<line x1="14.4" y1="369.9" x2="372" y2="369.9" stroke="#dcdcdc" stroke-width="0.6"/>
<text x="13.2" y="362.62" font-size="3.4" fill="#3a3a3a" text-anchor="end" textLength="2.1" lengthAdjust="spacingAndGlyphs">0</text>
<text x="13.2" y="347.34" font-size="3.4" fill="#3a3a3a" text-anchor="end" textLength="6.3" lengthAdjust="spacingAndGlyphs">500</text>
<text x="13.2" y="332.05" font-size="3.4" fill="#3a3a3a" text-anchor="end" textLength="8.4" lengthAdjust="spacingAndGlyphs">1000</text>
<text x="13.2" y="316.77" font-size="3.4" fill="#3a3a3a" text-anchor="end" textLength="8.4" lengthAdjust="spacingAndGlyphs">1500</text>
<text x="13.2" y="301.48" font-size="3.4" fill="#3a3a3a" text-anchor="end" textLength="8.4" lengthAdjust="spacingAndGlyphs">2000</text>
<text x="13.2" y="286.2" font-size="3.4" fill="#3a3a3a" text-anchor="end" textLength="8.4" lengthAdjust="spacingAndGlyphs">2500</text>
<text x="13.2" y="270.91" font-size="3.4" fill="#3a3a3a" text-anchor="end" textLength="8.4" lengthAdjust="spacingAndGlyphs">3000</text>
<text x="30.5" y="373.42" font-size="3.4" fill="#3a3a3a" text-anchor="middle" textLength="2.1" lengthAdjust="spacingAndGlyphs">0</text>
<text x="96.3" y="373.42" font-size="3.4" fill="#3a3a3a" text-anchor="middle" textLength="4.2" lengthAdjust="spacingAndGlyphs">20</text>
<text x="162.1" y="373.42" font-size="3.4" fill="#3a3a3a" text-anchor="middle" textLength="4.2" lengthAdjust="spacingAndGlyphs">40</text>
<text x="227.9" y="373.42" font-size="3.4" fill="#3a3a3a" text-anchor="middle" textLength="4.2" lengthAdjust="spacingAndGlyphs">60</text>
<text x="293.7" y="373.42" font-size="3.4" fill="#3a3a3a" text-anchor="middle" textLength="4.2" lengthAdjust="spacingAndGlyphs">80</text>
<text x="359.5" y="373.42" font-size="3.4" fill="#3a3a3a" text-anchor="middle" textLength="6.3" lengthAdjust="spacingAndGlyphs">100</text>
<text x="193.1" y="377.88" font-size="3.83" fill="#333" text-anchor="middle" textLength="22.6" lengthAdjust="spacingAndGlyphs">Time (Days)</text>
<g transform="translate(2.3 315.4) rotate(-90)"><text x="0" y="1.41" font-size="3.91" fill="#333" text-anchor="middle" textLength="19.8" lengthAdjust="spacingAndGlyphs">KPI Values</text></g>
<text x="193" y="258.62" font-size="4.49" fill="#222" text-anchor="middle" font-weight="bold" stroke="#222" stroke-width="0.16" textLength="93" lengthAdjust="spacingAndGlyphs">Outliers and Trends for KPI over Time</text>
<path d="M73.27,330.65 L76.56,330.92 L79.85,330.66 L83.14,330.39 L86.43,330.39 L89.72,330.44 L93.01,330.46 L96.3,330.46 L99.59,330.31 L102.88,330.2 L106.17,328.47 L109.46,328.47 L112.75,326.26 L116.04,325.74 L119.33,325.35 L122.62,325.35 L125.91,324.32 L129.2,324.62 L132.49,324.38 L135.78,325.96 L139.07,325.96 L142.36,326.31 L145.65,326.79 L148.94,327.07 L152.23,327.22 L155.52,328.03 L158.81,327.75 L160,327.6 L166.4,326.8 L170.4,325.2 L172,321.2 L173.6,310.8 L175.2,299.6 L177.6,294.3 L180,293.2 L182.4,290 L185.6,282.8 L188.8,277.2 L191.2,277.2 L194.4,282.8 L197.6,294 L200.8,295.6 L206.4,295.6 L209.6,297.2 L212.8,299.6 L217.6,303.6 L221.32,307.36 L224.61,307.36 L227.9,306.29 L231.19,307.91 L234.48,310.46 L237.77,309.57 L241.06,309.96 L244.35,309.96 L247.64,309.55 L250.93,308.91 L254.22,308.91 L257.51,312.04 L260.8,315.54 L264.09,316.02 L267.38,316.1 L270.67,316.26 L273.96,316.1 L277.25,316.47 L280.54,317.57 L283.83,316.8 L287.12,317.83 L290.41,318.61 L293.7,319.03 L296.99,319.03 L300.28,318.5 L303.57,317.61 L306.86,316.6 L310.15,315.34 L313.44,315.34 L316.73,316.41 L320.02,316.41 L323.31,316.08 L326.6,316.41 L329.89,316.34 L333.18,316.34 L336.47,316.01 L339.76,315.23 L343.05,315.23 L346.34,314.97 L349.63,316.23 L352.92,317.79 L356.21,318.18 L356.21,325.32 L352.92,326.09 L349.63,329.23 L346.34,331.73 L343.05,331.88 L339.76,331.88 L336.47,331.49 L333.18,331.33 L329.89,331.33 L326.6,330.68 L323.31,330.85 L320.02,330.68 L316.73,330.68 L313.44,332.82 L310.15,332.82 L306.86,330.31 L303.57,327.79 L300.28,326.02 L296.99,324.78 L293.7,324.78 L290.41,325.63 L287.12,326.02 L283.83,328.08 L280.54,327.7 L277.25,328.25 L273.96,328.43 L270.67,328.65 L267.38,327.94 L264.09,326.76 L260.8,326.99 L257.51,328.75 L254.22,330.31 L250.93,330.31 L247.64,329.02 L244.35,328.21 L241.06,328.21 L237.77,326.5 L234.48,324.23 L231.19,325.5 L227.9,325.81 L224.61,323.12 L221.32,322.63 L218.03,324.34 L214.74,325.5 L211.45,326.31 L210,326.4 L205.3,326.9 L200,327.3 L197.3,329.3 L195.3,337.3 L192.7,343.3 L190,345.3 L187.3,347.3 L185.3,353.3 L183.3,358.7 L180.7,363.3 L178,364 L175.3,360 L174,353.3 L173.3,346.7 L172.7,340 L171.3,334.7 L169.3,332.7 L165.3,332 L160,332 L158.81,332.56 L155.52,331.84 L152.23,332.25 L148.94,332.32 L145.65,332.88 L142.36,333.84 L139.07,335.31 L135.78,335.31 L132.49,338.48 L129.2,338.83 L125.91,339.92 L122.62,339.4 L119.33,339.4 L116.04,339.79 L112.75,339.53 L109.46,338.43 L106.17,338.43 L102.88,337.56 L99.59,337.5 L96.3,337.04 L93.01,337.04 L89.72,336.69 L86.43,336.8 L83.14,336.8 L79.85,336.25 L76.56,336.12 L73.27,336.67 Z" fill="#e6e6e6" stroke="none"/>
<path d="M73.27,330.65 L76.56,330.92 L79.85,330.66 L83.14,330.39 L86.43,330.39 L89.72,330.44 L93.01,330.46 L96.3,330.46 L99.59,330.31 L102.88,330.2 L106.17,328.47 L109.46,328.47 L112.75,326.26 L116.04,325.74 L119.33,325.35 L122.62,325.35 L125.91,324.32 L129.2,324.62 L132.49,324.38 L135.78,325.96 L139.07,325.96 L142.36,326.31 L145.65,326.79 L148.94,327.07 L152.23,327.22 L155.52,328.03 L158.81,327.75 L160,327.6 L166.4,326.8 L170.4,325.2 L172,321.2 L173.6,310.8 L175.2,299.6 L177.6,294.3 L180,293.2 L182.4,290 L185.6,282.8 L188.8,277.2 L191.2,277.2 L194.4,282.8 L197.6,294 L200.8,295.6 L206.4,295.6 L209.6,297.2 L212.8,299.6 L217.6,303.6 L221.32,307.36 L224.61,307.36 L227.9,306.29 L231.19,307.91 L234.48,310.46 L237.77,309.57 L241.06,309.96 L244.35,309.96 L247.64,309.55 L250.93,308.91 L254.22,308.91 L257.51,312.04 L260.8,315.54 L264.09,316.02 L267.38,316.1 L270.67,316.26 L273.96,316.1 L277.25,316.47 L280.54,317.57 L283.83,316.8 L287.12,317.83 L290.41,318.61 L293.7,319.03 L296.99,319.03 L300.28,318.5 L303.57,317.61 L306.86,316.6 L310.15,315.34 L313.44,315.34 L316.73,316.41 L320.02,316.41 L323.31,316.08 L326.6,316.41 L329.89,316.34 L333.18,316.34 L336.47,316.01 L339.76,315.23 L343.05,315.23 L346.34,314.97 L349.63,316.23 L352.92,317.79 L356.21,318.18" fill="none" stroke="#ff3b3b" stroke-opacity="0.85" stroke-width="0.85" stroke-dasharray="2.2,1.3" stroke-linejoin="round"/>
<path d="M73.27,336.67 L76.56,336.12 L79.85,336.25 L83.14,336.8 L86.43,336.8 L89.72,336.69 L93.01,337.04 L96.3,337.04 L99.59,337.5 L102.88,337.56 L106.17,338.43 L109.46,338.43 L112.75,339.53 L116.04,339.79 L119.33,339.4 L122.62,339.4 L125.91,339.92 L129.2,338.83 L132.49,338.48 L135.78,335.31 L139.07,335.31 L142.36,333.84 L145.65,332.88 L148.94,332.32 L152.23,332.25 L155.52,331.84 L158.81,332.56 L160,332 L165.3,332 L169.3,332.7 L171.3,334.7 L172.7,340 L173.3,346.7 L174,353.3 L175.3,360 L178,364 L180.7,363.3 L183.3,358.7 L185.3,353.3 L187.3,347.3 L190,345.3 L192.7,343.3 L195.3,337.3 L197.3,329.3 L200,327.3 L205.3,326.9 L210,326.4 L211.45,326.31 L214.74,325.5 L218.03,324.34 L221.32,322.63 L224.61,323.12 L227.9,325.81 L231.19,325.5 L234.48,324.23 L237.77,326.5 L241.06,328.21 L244.35,328.21 L247.64,329.02 L250.93,330.31 L254.22,330.31 L257.51,328.75 L260.8,326.99 L264.09,326.76 L267.38,327.94 L270.67,328.65 L273.96,328.43 L277.25,328.25 L280.54,327.7 L283.83,328.08 L287.12,326.02 L290.41,325.63 L293.7,324.78 L296.99,324.78 L300.28,326.02 L303.57,327.79 L306.86,330.31 L310.15,332.82 L313.44,332.82 L316.73,330.68 L320.02,330.68 L323.31,330.85 L326.6,330.68 L329.89,331.33 L333.18,331.33 L336.47,331.49 L339.76,331.88 L343.05,331.88 L346.34,331.73 L349.63,329.23 L352.92,326.09 L356.21,325.32" fill="none" stroke="#3a9a3a" stroke-opacity="0.85" stroke-width="0.85" stroke-dasharray="2.2,1.3" stroke-linejoin="round"/>
<path d="M30.5,338.65 L33.79,333.26 L37.08,334.22 L40.37,333.56 L43.66,334.44 L46.95,332.53 L50.24,336.66 L53.53,333.04 L56.82,332.53 L60.11,333.93 L63.4,331.05 L66.69,331.57 L69.98,334.74 L73.27,336.36 L76.56,333.26 L79.85,330.09 L83.14,334.89 L86.43,333.71 L89.72,334.22 L93.01,335.18 L96.3,337.98 L99.59,335.7 L102.88,332.45 L106.17,328.99 L109.46,328.1 L112.75,324.78 L116.04,331.42 L119.33,330.02 L122.62,330.24 L125.91,329.35 L129.2,329.35 L132.49,326.63 L135.78,331.05 L139.07,333.78 L142.36,328.76 L145.65,329.35 L148.94,330.68 L152.23,329.28 L155.52,329.35 L158.81,332.38 L162.1,328.76 L165.39,265.34 L168.68,285.33 L171.97,300.52 L175.26,306.12 L178.55,308.26 L181.84,312.39 L185.13,310.18 L188.42,308.93 L191.71,313.35 L195,315.05 L198.29,318.14 L201.58,319.69 L204.87,322.42 L208.16,321.24 L211.45,312.61 L214.74,312.61 L218.03,315.71 L221.32,315.05 L224.61,317.04 L227.9,324.19 L231.19,319.47 L234.48,319.32 L237.77,322.57 L241.06,325.45 L244.35,319.99 L247.64,323.38 L250.93,326.11 L254.22,320.95 L257.51,322.2 L260.8,320.21 L264.09,322.2 L267.38,324.63 L270.67,327.44 L273.96,320.21 L277.25,323.01 L280.54,320.95 L283.83,320.43 L287.12,321.17 L290.41,321.17 L293.7,322.42 L296.99,323.68 L300.28,326.11 L303.57,327.29 L306.86,330.02 L310.15,327.95 L313.44,325.37 L316.73,321.83 L320.02,320.95 L323.31,320.73 L326.6,322.94 L329.89,326.4 L333.18,320.36 L336.47,318.73 L339.76,318 L343.05,322.64 L346.34,320.5 L349.63,323.45 L352.92,322.64 L356.21,322.94" fill="none" stroke="#87ceeb" stroke-width="0.9"/>
<circle cx="30.5" cy="338.65" r="0.95" fill="#00008b"/>
<circle cx="33.79" cy="333.26" r="0.95" fill="#00008b"/>
<circle cx="37.08" cy="334.22" r="0.95" fill="#00008b"/>
<circle cx="40.37" cy="333.56" r="0.95" fill="#00008b"/>
<circle cx="43.66" cy="334.44" r="0.95" fill="#00008b"/>
<circle cx="46.95" cy="332.53" r="0.95" fill="#00008b"/>
<circle cx="50.24" cy="336.66" r="0.95" fill="#00008b"/>
<circle cx="53.53" cy="333.04" r="0.95" fill="#00008b"/>
<circle cx="56.82" cy="332.53" r="0.95" fill="#00008b"/>
<circle cx="60.11" cy="333.93" r="0.95" fill="#00008b"/>
<circle cx="63.4" cy="331.05" r="0.95" fill="#00008b"/>
<circle cx="66.69" cy="331.57" r="0.95" fill="#00008b"/>
<circle cx="69.98" cy="334.74" r="0.95" fill="#00008b"/>
<circle cx="73.27" cy="336.36" r="0.95" fill="#00008b"/>
<circle cx="76.56" cy="333.26" r="0.95" fill="#00008b"/>
<circle cx="79.85" cy="330.09" r="0.95" fill="#00008b"/>
<circle cx="83.14" cy="334.89" r="0.95" fill="#00008b"/>
<circle cx="86.43" cy="333.71" r="0.95" fill="#00008b"/>
<circle cx="89.72" cy="334.22" r="0.95" fill="#00008b"/>
<circle cx="93.01" cy="335.18" r="0.95" fill="#00008b"/>
<circle cx="96.3" cy="337.98" r="0.95" fill="#00008b"/>
<circle cx="99.59" cy="335.7" r="0.95" fill="#00008b"/>
<circle cx="102.88" cy="332.45" r="0.95" fill="#00008b"/>
<circle cx="106.17" cy="328.99" r="0.95" fill="#00008b"/>
<circle cx="109.46" cy="328.1" r="0.95" fill="#00008b"/>
<circle cx="112.75" cy="324.78" r="0.95" fill="#00008b"/>
<circle cx="116.04" cy="331.42" r="0.95" fill="#00008b"/>
<circle cx="119.33" cy="330.02" r="0.95" fill="#00008b"/>
<circle cx="122.62" cy="330.24" r="0.95" fill="#00008b"/>
<circle cx="125.91" cy="329.35" r="0.95" fill="#00008b"/>
<circle cx="129.2" cy="329.35" r="0.95" fill="#00008b"/>
<circle cx="132.49" cy="326.63" r="0.95" fill="#00008b"/>
<circle cx="135.78" cy="331.05" r="0.95" fill="#00008b"/>
<circle cx="139.07" cy="333.78" r="0.95" fill="#00008b"/>
<circle cx="142.36" cy="328.76" r="0.95" fill="#00008b"/>
<circle cx="145.65" cy="329.35" r="0.95" fill="#00008b"/>
<circle cx="148.94" cy="330.68" r="0.95" fill="#00008b"/>
<circle cx="152.23" cy="329.28" r="0.95" fill="#00008b"/>
<circle cx="155.52" cy="329.35" r="0.95" fill="#00008b"/>
<circle cx="158.81" cy="332.38" r="0.95" fill="#00008b"/>
<circle cx="162.1" cy="328.76" r="0.95" fill="#00008b"/>
<circle cx="165.39" cy="265.34" r="0.95" fill="#00008b"/>
<circle cx="168.68" cy="285.33" r="0.95" fill="#00008b"/>
<circle cx="171.97" cy="300.52" r="0.95" fill="#00008b"/>
<circle cx="175.26" cy="306.12" r="0.95" fill="#00008b"/>
<circle cx="178.55" cy="308.26" r="0.95" fill="#00008b"/>
<circle cx="181.84" cy="312.39" r="0.95" fill="#00008b"/>
<circle cx="185.13" cy="310.18" r="0.95" fill="#00008b"/>
<circle cx="188.42" cy="308.93" r="0.95" fill="#00008b"/>
<circle cx="191.71" cy="313.35" r="0.95" fill="#00008b"/>
<circle cx="195" cy="315.05" r="0.95" fill="#00008b"/>
<circle cx="198.29" cy="318.14" r="0.95" fill="#00008b"/>
<circle cx="201.58" cy="319.69" r="0.95" fill="#00008b"/>
<circle cx="204.87" cy="322.42" r="0.95" fill="#00008b"/>
<circle cx="208.16" cy="321.24" r="0.95" fill="#00008b"/>
<circle cx="211.45" cy="312.61" r="0.95" fill="#00008b"/>
<circle cx="214.74" cy="312.61" r="0.95" fill="#00008b"/>
<circle cx="218.03" cy="315.71" r="0.95" fill="#00008b"/>
<circle cx="221.32" cy="315.05" r="0.95" fill="#00008b"/>
<circle cx="224.61" cy="317.04" r="0.95" fill="#00008b"/>
<circle cx="227.9" cy="324.19" r="0.95" fill="#00008b"/>
<circle cx="231.19" cy="319.47" r="0.95" fill="#00008b"/>
<circle cx="234.48" cy="319.32" r="0.95" fill="#00008b"/>
<circle cx="237.77" cy="322.57" r="0.95" fill="#00008b"/>
<circle cx="241.06" cy="325.45" r="0.95" fill="#00008b"/>
<circle cx="244.35" cy="319.99" r="0.95" fill="#00008b"/>
<circle cx="247.64" cy="323.38" r="0.95" fill="#00008b"/>
<circle cx="250.93" cy="326.11" r="0.95" fill="#00008b"/>
<circle cx="254.22" cy="320.95" r="0.95" fill="#00008b"/>
<circle cx="257.51" cy="322.2" r="0.95" fill="#00008b"/>
<circle cx="260.8" cy="320.21" r="0.95" fill="#00008b"/>
<circle cx="264.09" cy="322.2" r="0.95" fill="#00008b"/>
<circle cx="267.38" cy="324.63" r="0.95" fill="#00008b"/>
<circle cx="270.67" cy="327.44" r="0.95" fill="#00008b"/>
<circle cx="273.96" cy="320.21" r="0.95" fill="#00008b"/>
<circle cx="277.25" cy="323.01" r="0.95" fill="#00008b"/>
<circle cx="280.54" cy="320.95" r="0.95" fill="#00008b"/>
<circle cx="283.83" cy="320.43" r="0.95" fill="#00008b"/>
<circle cx="287.12" cy="321.17" r="0.95" fill="#00008b"/>
<circle cx="290.41" cy="321.17" r="0.95" fill="#00008b"/>
<circle cx="293.7" cy="322.42" r="0.95" fill="#00008b"/>
<circle cx="296.99" cy="323.68" r="0.95" fill="#00008b"/>
<circle cx="300.28" cy="326.11" r="0.95" fill="#00008b"/>
<circle cx="303.57" cy="327.29" r="0.95" fill="#00008b"/>
<circle cx="306.86" cy="330.02" r="0.95" fill="#00008b"/>
<circle cx="310.15" cy="327.95" r="0.95" fill="#00008b"/>
<circle cx="313.44" cy="325.37" r="0.95" fill="#00008b"/>
<circle cx="316.73" cy="321.83" r="0.95" fill="#00008b"/>
<circle cx="320.02" cy="320.95" r="0.95" fill="#00008b"/>
<circle cx="323.31" cy="320.73" r="0.95" fill="#00008b"/>
<circle cx="326.6" cy="322.94" r="0.95" fill="#00008b"/>
<circle cx="329.89" cy="326.4" r="0.95" fill="#00008b"/>
<circle cx="333.18" cy="320.36" r="0.95" fill="#00008b"/>
<circle cx="336.47" cy="318.73" r="0.95" fill="#00008b"/>
<circle cx="339.76" cy="318" r="0.95" fill="#00008b"/>
<circle cx="343.05" cy="322.64" r="0.95" fill="#00008b"/>
<circle cx="346.34" cy="320.5" r="0.95" fill="#00008b"/>
<circle cx="349.63" cy="323.45" r="0.95" fill="#00008b"/>
<circle cx="352.92" cy="322.64" r="0.95" fill="#00008b"/>
<circle cx="356.21" cy="322.94" r="0.95" fill="#00008b"/>
<line x1="356.21" y1="322.94" x2="358.5" y2="320.5" stroke="#333" stroke-width="0.4"/>
<text x="359" y="320.01" font-size="2.8" fill="#87ceeb" text-anchor="start" textLength="9.5" lengthAdjust="spacingAndGlyphs">1248.0</text>
<text x="335.6" y="322.66" font-size="1.84" fill="#9fd3ee" text-anchor="start" textLength="5.2" lengthAdjust="spacingAndGlyphs">Trend</text>
<line x1="16.7" y1="264.9" x2="23.8" y2="264.9" stroke="#87ceeb" stroke-width="0.6"/><circle cx="20.25" cy="264.9" r="0.8" fill="#0a1a8c"/>
<line x1="16.7" y1="269.4" x2="23.8" y2="269.4" stroke="#f03c3c" stroke-width="0.85" stroke-dasharray="2.2,1.3"/>
<line x1="16.7" y1="273.9" x2="23.8" y2="273.9" stroke="#3c9a3c" stroke-width="0.85" stroke-dasharray="2.2,1.3"/>
<text x="25.7" y="266.04" font-size="3.16" fill="#333" text-anchor="start" textLength="26.3" lengthAdjust="spacingAndGlyphs">Time Series Data</text>
<text x="25.7" y="270.56" font-size="3.21" fill="#333" text-anchor="start" textLength="20.4" lengthAdjust="spacingAndGlyphs">Upper Bound</text>
<text x="25.7" y="275.06" font-size="3.22" fill="#333" text-anchor="start" textLength="20.4" lengthAdjust="spacingAndGlyphs">Lower Bound</text>
<line x1="14.45" y1="392.4" x2="14.45" y2="500.9" stroke="#dcdcdc" stroke-width="0.6"/>
<line x1="14.45" y1="500.9" x2="371.7" y2="500.9" stroke="#dcdcdc" stroke-width="0.6"/>
<text x="13.3" y="497.57" font-size="3.81" fill="#3a3a3a" text-anchor="end" textLength="7.81" lengthAdjust="spacingAndGlyphs">−50</text>
<text x="13.3" y="477.27" font-size="3.81" fill="#3a3a3a" text-anchor="end" textLength="2.35" lengthAdjust="spacingAndGlyphs">0</text>
<text x="13.3" y="456.97" font-size="3.81" fill="#3a3a3a" text-anchor="end" textLength="4.71" lengthAdjust="spacingAndGlyphs">50</text>
<text x="13.3" y="436.67" font-size="3.81" fill="#3a3a3a" text-anchor="end" textLength="7.06" lengthAdjust="spacingAndGlyphs">100</text>
<text x="13.3" y="416.37" font-size="3.81" fill="#3a3a3a" text-anchor="end" textLength="7.06" lengthAdjust="spacingAndGlyphs">150</text>
<text x="13.3" y="396.07" font-size="3.81" fill="#3a3a3a" text-anchor="end" textLength="7.06" lengthAdjust="spacingAndGlyphs">200</text>
<text x="14.45" y="504.87" font-size="3.81" fill="#3a3a3a" text-anchor="middle" textLength="2.35" lengthAdjust="spacingAndGlyphs">0</text>
<text x="48.8" y="504.87" font-size="3.81" fill="#3a3a3a" text-anchor="middle" textLength="4.71" lengthAdjust="spacingAndGlyphs">10</text>
<text x="83.15" y="504.87" font-size="3.81" fill="#3a3a3a" text-anchor="middle" textLength="4.71" lengthAdjust="spacingAndGlyphs">20</text>
<text x="117.5" y="504.87" font-size="3.81" fill="#3a3a3a" text-anchor="middle" textLength="4.71" lengthAdjust="spacingAndGlyphs">30</text>
<text x="151.85" y="504.87" font-size="3.81" fill="#3a3a3a" text-anchor="middle" textLength="4.71" lengthAdjust="spacingAndGlyphs">40</text>
<text x="186.2" y="504.87" font-size="3.81" fill="#3a3a3a" text-anchor="middle" textLength="4.71" lengthAdjust="spacingAndGlyphs">50</text>
<text x="220.55" y="504.87" font-size="3.81" fill="#3a3a3a" text-anchor="middle" textLength="4.71" lengthAdjust="spacingAndGlyphs">60</text>
<text x="254.9" y="504.87" font-size="3.81" fill="#3a3a3a" text-anchor="middle" textLength="4.71" lengthAdjust="spacingAndGlyphs">70</text>
<text x="289.25" y="504.87" font-size="3.81" fill="#3a3a3a" text-anchor="middle" textLength="4.71" lengthAdjust="spacingAndGlyphs">80</text>
<text x="323.6" y="504.87" font-size="3.81" fill="#3a3a3a" text-anchor="middle" textLength="4.71" lengthAdjust="spacingAndGlyphs">90</text>
<text x="193.2" y="510.56" font-size="5.16" fill="#333" text-anchor="middle" textLength="26.6" lengthAdjust="spacingAndGlyphs">Time Point</text>
<g transform="translate(2.2 446.4) rotate(-90)"><text x="0" y="1.83" font-size="5.09" fill="#333" text-anchor="middle" textLength="25.2" lengthAdjust="spacingAndGlyphs">% Change</text></g>
<text x="193.5" y="389.89" font-size="6.35" fill="#1a1a1a" text-anchor="middle" font-weight="bold" stroke="#1a1a1a" stroke-width="0.22" textLength="187" lengthAdjust="spacingAndGlyphs">7-point Shift Percentage Changes with EMA Trendline</text>
<path d="M59.11,469.35 L60.09,470.93 L61.08,471.9 L62.07,472.38 L63.06,472.49 L64.04,472.38 L65.03,472.15 L66.02,471.95 L67.01,471.87 L68,471.89 L68.98,471.99 L69.97,472.12 L70.96,472.29 L71.95,472.55 L72.94,472.93 L73.92,473.45 L74.91,473.98 L75.9,474.38 L76.89,474.54 L77.88,474.47 L78.86,474.33 L79.85,474.28 L80.84,474.39 L81.83,474.57 L82.82,474.7 L83.8,474.68 L84.79,474.6 L85.78,474.7 L86.77,475.21 L87.76,476.15 L88.74,477.07 L89.73,477.45 L90.72,476.81 L91.71,475.34 L92.7,473.61 L93.68,472.16 L94.67,471.27 L95.66,470.66 L96.65,469.97 L97.64,468.89 L98.62,467.56 L99.61,466.3 L100.6,465.45 L101.59,465.14 L102.58,465.07 L103.56,464.91 L104.55,464.41 L105.54,463.62 L106.53,462.79 L107.52,462.17 L108.5,461.87 L109.49,461.84 L110.48,462.02 L111.47,462.31 L112.46,462.66 L113.44,462.95 L114.43,463.12 L115.42,463.13 L116.41,463.05 L117.4,462.95 L118.38,462.9 L119.37,462.95 L120.36,463.17 L121.35,463.62 L122.34,464.24 L123.32,464.88 L124.31,465.37 L125.3,465.6 L126.29,465.72 L127.28,465.98 L128.26,466.62 L129.25,467.66 L130.24,468.87 L131.23,470.01 L132.22,470.9 L133.2,471.57 L134.19,472.13 L135.18,472.67 L136.17,473.19 L137.16,473.61 L138.14,473.84 L139.13,473.83 L140.12,473.73 L141.11,473.69 L142.1,473.86 L143.08,474.21 L144.07,474.53 L145.06,474.62 L146.05,474.39 L147.04,474.22 L148.02,474.55 L149.01,475.75 L150,476.87 L150.99,475.94 L151.98,470.98 L152.96,461.21 L153.95,449.11 L154.94,437.7 L155.93,429.82 L156.92,425.7 L157.9,423.84 L158.89,422.7 L159.88,421.23 L160.87,419.58 L161.86,418.04 L162.84,416.91 L163.83,416.18 L164.82,415.71 L165.81,415.33 L166.8,414.96 L167.78,414.66 L168.77,414.51 L169.76,414.57 L170.75,414.73 L171.74,414.8 L172.72,414.61 L173.71,414.2 L174.7,414.13 L175.69,414.97 L176.68,417.22 L177.66,420.58 L178.65,424.39 L179.64,428.01 L180.63,431.08 L181.62,433.75 L182.6,436.2 L183.59,438.6 L184.58,440.95 L185.57,443.2 L186.56,445.27 L187.54,447.18 L188.53,449.02 L189.52,450.88 L190.51,452.86 L191.5,454.96 L192.48,457.15 L193.47,459.43 L194.46,461.9 L195.45,464.83 L196.44,468.52 L197.42,473.08 L198.41,477.78 L199.4,481.64 L200.39,483.69 L201.38,483.8 L202.36,482.73 L203.35,481.29 L204.34,480.16 L205.33,479.39 L206.32,478.84 L207.3,478.4 L208.29,477.97 L209.28,477.52 L210.27,476.98 L211.26,476.34 L212.24,475.65 L213.23,474.95 L214.22,474.32 L215.21,473.79 L216.2,473.38 L217.18,473.11 L218.17,472.97 L219.16,472.95 L220.15,473.01 L221.14,473.11 L222.12,473.22 L223.11,473.29 L224.1,473.3 L225.09,473.22 L226.08,473.09 L227.06,472.96 L228.05,472.88 L229.04,472.86 L230.03,472.87 L231.02,472.91 L232,472.95 L232.99,473.03 L233.98,473.19 L234.97,473.46 L235.96,473.86 L236.94,474.37 L237.93,475 L238.92,475.7 L239.91,476.35 L240.9,476.82 L241.88,477 L242.87,476.97 L243.86,476.91 L244.85,477.02 L245.84,477.38 L246.82,477.83 L247.81,478.22 L248.8,478.39 L249.79,478.32 L250.78,478.05 L251.76,477.6 L252.75,477.03 L253.74,476.38 L254.73,475.72 L255.72,475.1 L256.7,474.56 L257.69,474.13 L258.68,473.86 L259.67,473.75 L260.66,473.77 L261.64,473.91 L262.63,474.11 L263.62,474.26 L264.61,474.19 L265.6,473.78 L266.58,473.04 L267.57,472.22 L268.56,471.58 L269.55,471.35 L270.54,471.4 L271.52,471.55 L272.51,471.6 L273.5,471.48 L274.49,471.3 L275.48,471.16 L276.46,471.17 L277.45,471.29 L278.44,471.51 L279.43,471.76 L280.42,472.02 L281.4,472.21 L282.39,472.27 L283.38,472.16 L284.37,471.91 L285.36,471.53 L286.34,471.06 L287.33,470.61 L288.32,470.29 L289.31,470.26 L290.3,470.58 L291.28,471.09 L292.27,471.58 L293.26,471.84 L294.25,471.86 L295.24,471.76 L296.22,471.68 L297.21,471.69 L298.2,471.77 L299.19,471.86 L300.18,471.9 L301.16,471.91 L302.15,471.93 L303.14,472.03 L304.13,472.22 L305.12,472.51 L306.1,472.86 L307.09,473.26 L308.08,473.74 L309.07,474.34 L310.06,475.11 L311.04,476.01 L312.03,476.83 L313.02,477.34 L314.01,477.32 L315,476.82 L315.98,476.03 L316.97,475.14 L317.96,474.3 L318.95,473.5 L319.94,472.74 L320.92,472.04 L321.91,471.4 L322.9,470.88 L323.89,470.49 L324.88,470.24 L325.86,470.02 L326.85,469.74 L327.84,469.32 L328.83,468.8 L329.82,468.31 L330.8,467.96 L331.79,467.79 L332.78,467.77 L333.77,467.85 L334.76,467.97 L335.74,468.08 L336.73,468.12 L337.72,468.03 L338.71,467.83 L339.7,467.61 L340.68,467.45 L341.67,467.46 L342.66,467.6 L343.65,467.8 L344.64,468.02 L345.62,468.21 L346.61,468.34 L347.6,468.41 L348.59,468.4 L349.58,468.37 L350.56,468.4 L351.55,468.57 L352.54,468.94 L353.53,469.59 L354.51,470.6 L354.51,478 L353.53,477.32 L352.54,476.94 L351.55,476.79 L350.56,476.77 L349.58,476.81 L348.59,476.83 L347.6,476.73 L346.61,476.48 L345.62,476.12 L344.64,475.73 L343.65,475.4 L342.66,475.11 L341.67,474.78 L340.68,474.3 L339.7,473.67 L338.71,473.01 L337.72,472.51 L336.73,472.33 L335.74,472.51 L334.76,472.98 L333.77,473.67 L332.78,474.53 L331.79,475.47 L330.8,476.42 L329.82,477.3 L328.83,478.14 L327.84,478.98 L326.85,479.87 L325.86,480.83 L324.88,481.77 L323.89,482.62 L322.9,483.27 L321.91,483.73 L320.92,484.01 L319.94,484.17 L318.95,484.22 L317.96,484.19 L316.97,484.1 L315.98,483.96 L315,483.83 L314.01,483.79 L313.02,483.9 L312.03,484.16 L311.04,484.48 L310.06,484.73 L309.07,484.82 L308.08,484.75 L307.09,484.57 L306.1,484.33 L305.12,484.05 L304.13,483.69 L303.14,483.21 L302.15,482.59 L301.16,481.87 L300.18,481.09 L299.19,480.31 L298.2,479.6 L297.21,479.02 L296.22,478.63 L295.24,478.49 L294.25,478.46 L293.26,478.37 L292.27,478.06 L291.28,477.53 L290.3,477.02 L289.31,476.78 L288.32,477 L287.33,477.57 L286.34,478.29 L285.36,478.96 L284.37,479.49 L283.38,479.87 L282.39,480.11 L281.4,480.2 L280.42,480.17 L279.43,480.07 L278.44,479.92 L277.45,479.77 L276.46,479.68 L275.48,479.71 L274.49,479.89 L273.5,480.14 L272.51,480.36 L271.52,480.48 L270.54,480.46 L269.55,480.38 L268.56,480.29 L267.57,480.25 L266.58,480.26 L265.6,480.34 L264.61,480.49 L263.62,480.68 L262.63,480.83 L261.64,480.87 L260.66,480.79 L259.67,480.7 L258.68,480.74 L257.69,481.04 L256.7,481.57 L255.72,482.19 L254.73,482.74 L253.74,483.13 L252.75,483.39 L251.76,483.55 L250.78,483.65 L249.79,483.72 L248.8,483.79 L247.81,483.88 L246.82,483.99 L245.84,484.12 L244.85,484.23 L243.86,484.29 L242.87,484.32 L241.88,484.29 L240.9,484.22 L239.91,484.12 L238.92,484.01 L237.93,483.9 L236.94,483.83 L235.96,483.75 L234.97,483.6 L233.98,483.31 L232.99,482.85 L232,482.26 L231.02,481.59 L230.03,480.87 L229.04,480.13 L228.05,479.38 L227.06,478.64 L226.08,478.01 L225.09,477.63 L224.1,477.7 L223.11,478.33 L222.12,479.34 L221.14,480.44 L220.15,481.35 L219.16,481.95 L218.17,482.38 L217.18,482.76 L216.2,483.23 L215.21,483.74 L214.22,484.24 L213.23,484.67 L212.24,485.01 L211.26,485.27 L210.27,485.5 L209.28,485.72 L208.29,485.98 L207.3,486.29 L206.32,486.71 L205.33,487.21 L204.34,487.76 L203.35,488.31 L202.36,488.85 L201.38,489.5 L200.39,490.42 L199.4,491.75 L198.41,493.38 L197.42,494.96 L196.44,496.14 L195.45,496.67 L194.46,496.65 L193.47,496.26 L192.48,495.67 L191.5,494.96 L190.51,494.13 L189.52,493.17 L188.53,492.09 L187.54,490.87 L186.56,489.5 L185.57,487.96 L184.58,486.27 L183.59,484.42 L182.6,482.43 L181.62,480.2 L180.63,477.39 L179.64,473.64 L178.65,468.66 L177.66,463.14 L176.68,458.38 L175.69,455.68 L174.7,455.67 L173.71,457.55 L172.72,460.36 L171.74,463.16 L170.75,465.71 L169.76,468.1 L168.77,470.41 L167.78,472.7 L166.8,474.92 L165.81,477.02 L164.82,478.95 L163.83,480.74 L162.84,482.42 L161.86,484.05 L160.87,485.72 L159.88,487.57 L158.89,489.75 L157.9,492.28 L156.92,494.43 L155.93,495.1 L154.94,493.26 L153.95,488.9 L152.96,483.66 L151.98,479.27 L150.99,477.2 L150,477.13 L149.01,478.14 L148.02,479.29 L147.04,480.06 L146.05,480.5 L145.06,480.64 L144.07,480.58 L143.08,480.39 L142.1,480.19 L141.11,480.09 L140.12,480.09 L139.13,480.14 L138.14,480.17 L137.16,480.12 L136.17,480.02 L135.18,479.92 L134.19,479.88 L133.2,479.91 L132.22,480 L131.23,480.13 L130.24,480.27 L129.25,480.39 L128.26,480.43 L127.28,480.33 L126.29,480.05 L125.3,479.51 L124.31,478.64 L123.32,477.44 L122.34,476.14 L121.35,475.02 L120.36,474.33 L119.37,474.02 L118.38,473.75 L117.4,473.22 L116.41,472.26 L115.42,471.22 L114.43,470.53 L113.44,470.59 L112.46,471.36 L111.47,472.53 L110.48,473.77 L109.49,474.83 L108.5,475.73 L107.52,476.53 L106.53,477.27 L105.54,477.95 L104.55,478.55 L103.56,479.05 L102.58,479.43 L101.59,479.72 L100.6,479.97 L99.61,480.2 L98.62,480.44 L97.64,480.72 L96.65,481.07 L95.66,481.45 L94.67,481.71 L93.68,481.71 L92.7,481.3 L91.71,480.64 L90.72,480 L89.73,479.64 L88.74,479.66 L87.76,479.89 L86.77,480.12 L85.78,480.16 L84.79,480.02 L83.8,479.78 L82.82,479.51 L81.83,479.3 L80.84,479.16 L79.85,479.14 L78.86,479.25 L77.88,479.43 L76.89,479.59 L75.9,479.64 L74.91,479.53 L73.92,479.3 L72.94,478.99 L71.95,478.62 L70.96,478.25 L69.97,477.91 L68.98,477.64 L68,477.45 L67.01,477.34 L66.02,477.3 L65.03,477.3 L64.04,477.35 L63.06,477.42 L62.07,477.5 L61.08,477.57 L60.09,477.62 L59.11,477.63 Z" fill="#eeeeee" stroke="none"/>
<rect x="37.2" y="465.9" width="2.6" height="10" fill="#ffa010"/>
<rect x="40.63" y="474.84" width="2.6" height="1.06" fill="#ffa010"/>
<rect x="44.06" y="475.46" width="2.6" height="0.44" fill="#ffa010"/>
<rect x="47.5" y="472.24" width="2.6" height="3.66" fill="#ffa010"/>
<rect x="50.94" y="471.57" width="2.6" height="4.33" fill="#ffa010"/>
<rect x="54.37" y="475.9" width="2.6" height="3.11" fill="#ffa010"/>
<rect x="57.81" y="475.42" width="2.6" height="0.48" fill="#8ccbe6"/>
<rect x="61.24" y="475.9" width="2.6" height="0.32" fill="#8ccbe6"/>
<rect x="64.67" y="472.48" width="2.6" height="3.42" fill="#8ccbe6"/>
<rect x="68.11" y="475.9" width="2.6" height="1.42" fill="#ffa010"/>
<rect x="71.55" y="475.9" width="2.6" height="3.55" fill="#ffa010"/>
<rect x="74.98" y="475.9" width="2.6" height="3.61" fill="#8ccbe6"/>
<rect x="78.42" y="475.9" width="2.6" height="0.67" fill="#8ccbe6"/>
<rect x="81.85" y="475.9" width="2.6" height="2.63" fill="#8ccbe6"/>
<rect x="85.29" y="475.9" width="2.6" height="3.51" fill="#8ccbe6"/>
<rect x="88.72" y="475.9" width="2.6" height="3.06" fill="#8ccbe6"/>
<rect x="92.16" y="466.87" width="2.6" height="9.03" fill="#ffa010"/>
<rect x="95.59" y="467.68" width="2.6" height="8.22" fill="#ffa010"/>
<rect x="99.03" y="461.8" width="2.6" height="14.1" fill="#ffa010"/>
<rect x="102.46" y="470.08" width="2.6" height="5.82" fill="#8ccbe6"/>
<rect x="105.9" y="462.09" width="2.6" height="13.81" fill="#ffa010"/>
<rect x="109.33" y="467.28" width="2.6" height="8.62" fill="#8ccbe6"/>
<rect x="112.77" y="471.56" width="2.6" height="4.34" fill="#ffa010"/>
<rect x="116.2" y="475.9" width="2.6" height="0.46" fill="#ffa010"/>
<rect x="119.64" y="474.1" width="2.6" height="1.8" fill="#8ccbe6"/>
<rect x="123.07" y="475.9" width="2.6" height="6.95" fill="#ffa010"/>
<rect x="126.51" y="475.9" width="2.6" height="3.2" fill="#8ccbe6"/>
<rect x="129.94" y="474.28" width="2.6" height="1.62" fill="#8ccbe6"/>
<rect x="133.38" y="474.75" width="2.6" height="1.15" fill="#8ccbe6"/>
<rect x="136.81" y="475.9" width="2.6" height="1.68" fill="#8ccbe6"/>
<rect x="140.24" y="475.81" width="2.6" height="0.3" fill="#8ccbe6"/>
<rect x="143.68" y="475.9" width="2.6" height="3.19" fill="#8ccbe6"/>
<rect x="147.11" y="475.9" width="2.6" height="1.78" fill="#8ccbe6"/>
<rect x="150.55" y="468.53" width="2.6" height="7.37" fill="#ffa010"/>
<rect x="153.98" y="396.99" width="2.6" height="78.91" fill="#ffa010"/>
<rect x="157.42" y="420.12" width="2.6" height="55.78" fill="#ffa010"/>
<rect x="160.85" y="436.03" width="2.6" height="39.87" fill="#8ccbe6"/>
<rect x="164.29" y="446.63" width="2.6" height="29.27" fill="#8ccbe6"/>
<rect x="167.72" y="449.18" width="2.6" height="26.72" fill="#8ccbe6"/>
<rect x="171.16" y="447.94" width="2.6" height="27.96" fill="#8ccbe6"/>
<rect x="174.59" y="452.78" width="2.6" height="23.12" fill="#8ccbe6"/>
<rect x="178.03" y="475.9" width="2.6" height="18.42" fill="#ffa010"/>
<rect x="181.46" y="475.9" width="2.6" height="14.96" fill="#ffa010"/>
<rect x="184.9" y="475.9" width="2.6" height="9.69" fill="#8ccbe6"/>
<rect x="188.33" y="475.9" width="2.6" height="8.83" fill="#8ccbe6"/>
<rect x="191.77" y="475.9" width="2.6" height="8.73" fill="#8ccbe6"/>
<rect x="195.2" y="475.9" width="2.6" height="8.31" fill="#8ccbe6"/>
<rect x="198.64" y="475.9" width="2.6" height="8.77" fill="#8ccbe6"/>
<rect x="202.07" y="475.9" width="2.6" height="2.85" fill="#ffa010"/>
<rect x="205.51" y="475.28" width="2.6" height="0.62" fill="#ffa010"/>
<rect x="208.94" y="475.9" width="2.6" height="0.58" fill="#ffa010"/>
<rect x="212.38" y="472.99" width="2.6" height="2.91" fill="#ffa010"/>
<rect x="215.81" y="473.32" width="2.6" height="2.58" fill="#8ccbe6"/>
<rect x="219.25" y="475.9" width="2.6" height="1.84" fill="#8ccbe6"/>
<rect x="222.68" y="474.11" width="2.6" height="1.79" fill="#8ccbe6"/>
<rect x="226.12" y="475.9" width="2.6" height="5.59" fill="#ffa010"/>
<rect x="229.55" y="475.9" width="2.6" height="8.29" fill="#ffa010"/>
<rect x="232.99" y="475.9" width="2.6" height="8.65" fill="#ffa010"/>
<rect x="236.42" y="475.9" width="2.6" height="4.33" fill="#8ccbe6"/>
<rect x="239.86" y="475.9" width="2.6" height="5.8" fill="#8ccbe6"/>
<rect x="243.29" y="475.9" width="2.6" height="2.09" fill="#8ccbe6"/>
<rect x="246.73" y="475.9" width="2.6" height="1.43" fill="#ffa010"/>
<rect x="250.16" y="475.9" width="2.6" height="2.78" fill="#8ccbe6"/>
<rect x="253.6" y="473.43" width="2.6" height="2.47" fill="#ffa010"/>
<rect x="257.03" y="472.24" width="2.6" height="3.66" fill="#ffa010"/>
<rect x="260.47" y="475.9" width="2.6" height="4.56" fill="#8ccbe6"/>
<rect x="263.9" y="475.9" width="2.6" height="4.33" fill="#8ccbe6"/>
<rect x="267.34" y="469.11" width="2.6" height="6.79" fill="#ffa010"/>
<rect x="270.77" y="475.9" width="2.6" height="2.07" fill="#8ccbe6"/>
<rect x="274.21" y="474.6" width="2.6" height="1.3" fill="#8ccbe6"/>
<rect x="277.64" y="475.9" width="2.6" height="0.3" fill="#8ccbe6"/>
<rect x="281.08" y="474.83" width="2.6" height="1.07" fill="#8ccbe6"/>
<rect x="284.51" y="472.07" width="2.6" height="3.83" fill="#8ccbe6"/>
<rect x="287.95" y="469.9" width="2.6" height="6" fill="#ffa010"/>
<rect x="291.38" y="475.9" width="2.6" height="3.42" fill="#ffa010"/>
<rect x="294.82" y="475.9" width="2.6" height="3.28" fill="#ffa010"/>
<rect x="298.25" y="475.9" width="2.6" height="6.37" fill="#ffa010"/>
<rect x="301.69" y="475.9" width="2.6" height="9.5" fill="#ffa010"/>
<rect x="305.12" y="475.9" width="2.6" height="6.85" fill="#8ccbe6"/>
<rect x="308.56" y="475.9" width="2.6" height="4.24" fill="#8ccbe6"/>
<rect x="312" y="475.29" width="2.6" height="0.61" fill="#ffa010"/>
<rect x="315.43" y="472.96" width="2.6" height="2.94" fill="#ffa010"/>
<rect x="318.87" y="469.71" width="2.6" height="6.19" fill="#ffa010"/>
<rect x="322.3" y="470.72" width="2.6" height="5.18" fill="#8ccbe6"/>
<rect x="325.73" y="471.22" width="2.6" height="4.68" fill="#8ccbe6"/>
<rect x="329.17" y="466.68" width="2.6" height="9.22" fill="#ffa010"/>
<rect x="332.6" y="468.42" width="2.6" height="7.48" fill="#8ccbe6"/>
<rect x="336.04" y="471.96" width="2.6" height="3.94" fill="#8ccbe6"/>
<rect x="339.47" y="475.9" width="2.6" height="1.7" fill="#ffa010"/>
<rect x="342.91" y="475.68" width="2.6" height="0.3" fill="#ffa010"/>
<rect x="346.34" y="475.9" width="2.6" height="0.54" fill="#8ccbe6"/>
<rect x="349.78" y="471.54" width="2.6" height="4.36" fill="#8ccbe6"/>
<rect x="353.21" y="475.9" width="2.6" height="2.55" fill="#8ccbe6"/>
<path d="M38.5,465.9 L39.55,466.56 L40.61,467.26 L41.67,467.96 L42.72,468.63 L43.78,469.24 L44.84,469.75 L45.89,470.14 L46.95,470.39 L48.01,470.51 L49.06,470.53 L50.12,470.49 L51.18,470.53 L52.23,470.79 L53.29,471.36 L54.35,472.07 L55.41,472.72 L56.46,473.12 L57.52,473.3 L58.58,473.41 L59.63,473.6 L60.69,473.87 L61.75,474.1 L62.8,474.17 L63.86,474.03 L64.92,473.84 L65.97,473.75 L67.03,473.87 L68.09,474.16 L69.15,474.54 L70.2,474.93 L71.26,475.3 L72.32,475.66 L73.37,476.03 L74.43,476.37 L75.49,476.64 L76.54,476.78 L77.6,476.79 L78.66,476.73 L79.72,476.71 L80.77,476.8 L81.83,476.95 L82.89,477.13 L83.94,477.28 L85,477.42 L86.06,477.61 L87.11,477.88 L88.17,478.15 L89.23,478.23 L90.28,477.91 L91.34,477.13 L92.4,476.15 L93.45,475.24 L94.51,474.62 L95.57,474.13 L96.63,473.54 L97.68,472.66 L98.74,471.63 L99.8,470.75 L100.85,470.33 L101.91,470.34 L102.97,470.44 L104.02,470.28 L105.08,469.71 L106.14,468.95 L107.2,468.3 L108.25,467.97 L109.31,467.91 L110.37,468.01 L111.42,468.16 L112.48,468.37 L113.54,468.69 L114.59,469.2 L115.65,469.83 L116.71,470.44 L117.76,470.86 L118.82,471.06 L119.88,471.23 L120.94,471.61 L121.99,472.35 L123.05,473.3 L124.11,474.22 L125.16,474.92 L126.22,475.34 L127.28,475.55 L128.33,475.59 L129.39,475.52 L130.45,475.38 L131.5,475.23 L132.56,475.11 L133.62,475.07 L134.68,475.13 L135.73,475.32 L136.79,475.55 L137.85,475.72 L138.9,475.76 L139.96,475.71 L141.02,475.71 L142.07,475.86 L143.13,476.16 L144.19,476.46 L145.24,476.61 L146.3,476.57 L147.36,476.58 L148.41,476.86 L149.47,477.44 L150.53,477.41 L151.59,475.63 L152.64,471.17 L153.7,464.81 L154.76,458.21 L155.81,452.97 L156.87,449.62 L157.93,447.58 L158.98,446.22 L160.04,445.13 L161.1,444.34 L162.16,443.9 L163.21,443.86 L164.27,444.1 L165.33,444.48 L166.38,444.87 L167.44,445.23 L168.5,445.57 L169.55,445.89 L170.61,446.17 L171.67,446.31 L172.72,446.24 L173.78,446.1 L174.84,446.46 L175.89,447.91 L176.95,450.84 L178.01,454.67 L179.07,458.61 L180.12,461.9 L181.18,464.45 L182.24,466.47 L183.29,468.17 L184.35,469.67 L185.41,471 L186.46,472.19 L187.52,473.26 L188.58,474.23 L189.63,475.11 L190.69,475.93 L191.75,476.68 L192.81,477.34 L193.86,477.92 L194.92,478.43 L195.98,478.92 L197.03,479.43 L198.09,479.94 L199.15,480.35 L200.2,480.58 L201.26,480.59 L202.32,480.41 L203.38,480.1 L204.43,479.71 L205.49,479.31 L206.55,478.96 L207.6,478.73 L208.66,478.58 L209.72,478.41 L210.77,478.14 L211.83,477.76 L212.89,477.31 L213.94,476.85 L215,476.45 L216.06,476.16 L217.11,476.05 L218.17,476.17 L219.23,476.37 L220.29,476.48 L221.34,476.36 L222.4,476.1 L223.46,475.9 L224.51,475.96 L225.57,476.31 L226.63,476.85 L227.68,477.43 L228.74,477.97 L229.8,478.49 L230.85,479.01 L231.91,479.54 L232.97,480.01 L234.03,480.35 L235.08,480.46 L236.14,480.42 L237.2,480.36 L238.25,480.39 L239.31,480.52 L240.37,480.65 L241.42,480.68 L242.48,480.55 L243.54,480.31 L244.59,480.02 L245.65,479.74 L246.71,479.51 L247.77,479.37 L248.82,479.32 L249.88,479.32 L250.94,479.26 L251.99,479.05 L253.05,478.67 L254.11,478.17 L255.16,477.6 L256.22,477.03 L257.28,476.58 L258.33,476.36 L259.39,476.45 L260.45,476.79 L261.51,477.26 L262.56,477.77 L263.62,478.15 L264.68,478.23 L265.73,477.83 L266.79,477.05 L267.85,476.25 L268.9,475.79 L269.96,475.83 L271.02,476.13 L272.07,476.38 L273.13,476.37 L274.19,476.19 L275.25,475.97 L276.3,475.88 L277.36,475.91 L278.42,475.96 L279.47,475.98 L280.53,475.92 L281.59,475.81 L282.64,475.65 L283.7,475.45 L284.76,475.18 L285.81,474.79 L286.87,474.28 L287.93,473.81 L288.99,473.57 L290.04,473.72 L291.1,474.18 L292.16,474.74 L293.21,475.22 L294.27,475.55 L295.33,475.83 L296.38,476.13 L297.44,476.53 L298.5,477.03 L299.56,477.6 L300.61,478.24 L301.67,478.88 L302.73,479.43 L303.78,479.85 L304.84,480.12 L305.9,480.29 L306.95,480.4 L308.01,480.46 L309.07,480.42 L310.12,480.24 L311.18,479.91 L312.24,479.5 L313.3,479.05 L314.35,478.61 L315.41,478.16 L316.47,477.66 L317.52,477.08 L318.58,476.46 L319.64,475.85 L320.69,475.32 L321.75,474.88 L322.81,474.55 L323.86,474.3 L324.92,474.11 L325.98,473.9 L327.03,473.57 L328.09,473.09 L329.15,472.52 L330.21,471.97 L331.26,471.54 L332.32,471.25 L333.38,471.06 L334.43,470.94 L335.49,470.92 L336.55,471.03 L337.6,471.33 L338.66,471.82 L339.72,472.36 L340.77,472.83 L341.83,473.12 L342.89,473.31 L343.95,473.48 L345,473.75 L346.06,474.04 L347.12,474.24 L348.17,474.23 L349.23,474.02 L350.29,473.75 L351.34,473.55 L352.4,473.56 L353.46,473.94 L354.51,474.8" fill="none" stroke="#2f8ef5" stroke-width="1.15"/>
<line x1="147.9" y1="395.5" x2="162.9" y2="395.5" stroke="#888" stroke-width="0.35"/>
<path d="M153.5,392.9 L157.3,392.9 L155.4,396.8 Z" fill="#111"/>
<line x1="295.7" y1="397.3" x2="305.4" y2="397.3" stroke="#2f8ef5" stroke-width="1.15"/>
<rect x="295.7" y="402.5" width="9.7" height="3.2" fill="#eeeeee"/>
<rect x="295.7" y="408.79999999999995" width="9.7" height="3.2" fill="#ffa010"/>
<text x="308.6" y="398.94" font-size="4.56" fill="#333" text-anchor="start" textLength="20" lengthAdjust="spacingAndGlyphs">7-pt EMA</text>
<text x="308.6" y="405.72" font-size="4.49" fill="#333" text-anchor="start" textLength="59.8" lengthAdjust="spacingAndGlyphs">Standard Deviation Bounds</text>
<text x="308.6" y="412.02" font-size="4.51" fill="#333" text-anchor="start" textLength="22.3" lengthAdjust="spacingAndGlyphs">% Change</text>
</svg></body></html>
